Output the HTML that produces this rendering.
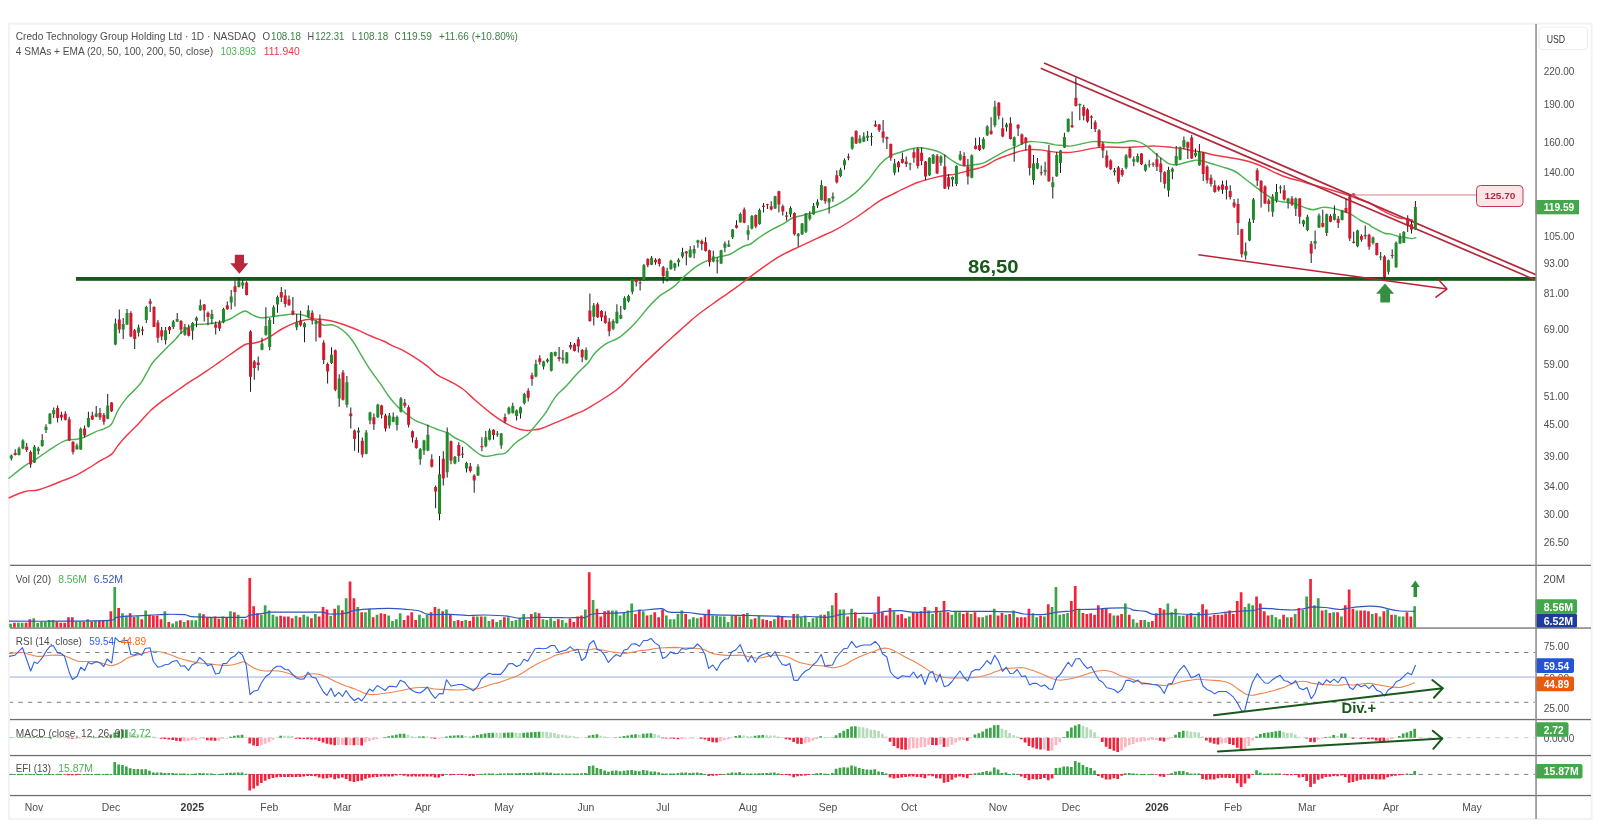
<!DOCTYPE html><html><head><meta charset="utf-8"><title>chart</title>
<style>html,body{margin:0;padding:0;background:#fff;}svg{display:block;will-change:transform}text{font-family:"Liberation Sans",sans-serif;}</style></head><body>
<svg width="1600" height="837" viewBox="0 0 1600 837">
<rect x="0" y="0" width="1600" height="837" fill="#ffffff"/>
<rect x="8.9" y="23.7" width="1582.6" height="795.2" fill="none" stroke="#f2f2f2" stroke-width="2"/>
<rect x="76" y="277" width="1460" height="3.8" fill="#17591b"/>
<path d="M9 497.8C11.7 496.7 20.3 492.8 25.1 491.5C29.9 490.2 33.5 491 37.6 490C41.8 489 46 487.3 50.2 485.7C54.4 484.2 58.6 482.4 62.7 480.7C66.9 479 71.1 477.7 75.3 475.7C79.5 473.7 83.6 471.2 87.8 468.7C92 466.2 96.4 463 100.4 460.6C104.3 458.3 108.5 456.9 111.4 454.4C114.3 451.9 115.6 448.5 117.9 445.6C120.3 442.7 122.1 440.4 125.5 436.8C128.8 433.2 133.8 428.6 138 424.3C142.2 419.9 146.4 414.4 150.6 410.5C154.7 406.5 158.9 403.6 163.1 400.4C167.3 397.3 171.5 394.6 175.7 391.6C179.8 388.7 184.7 385.2 188.2 382.8C191.8 380.5 193.8 379.4 197 377.3C200.2 375.3 203.7 373 207.5 370.4C211.4 367.8 215.9 364.5 220.1 361.6C224.3 358.7 228.5 355.7 232.6 352.8C236.8 350 241.8 346.1 245.2 344.5C248.5 343 250.2 343.8 252.7 343.3C255.2 342.8 257.3 342.7 260.2 341.5C263.2 340.4 266.5 338.7 270.3 336.5C274 334.3 278.6 330.8 282.8 328.5C287 326.2 291.6 324.2 295.4 322.7C299.1 321.3 302.1 320.3 305.4 319.7C308.8 319.1 311.3 318.8 315.5 319C319.6 319.1 325.5 319.7 330.5 320.7C335.5 321.8 341 323.6 345.6 325.2C350.2 326.8 353.9 328.4 358.1 330.2C362.3 332 366.5 334.2 370.7 336C374.8 337.8 379.4 339.4 383.2 341C387 342.7 390 344.5 393.2 346.1C396.5 347.6 398.9 348.2 402.5 350.1C406.2 352.1 410.9 354.9 415.1 357.7C419.3 360.4 423.9 363.5 427.6 366.4C431.4 369.4 433.9 372.7 437.7 375.2C441.4 377.7 446 379.2 450.2 381.5C454.4 383.8 458.6 385.9 462.8 389C467 392.2 470.7 396.3 475.3 400.3C479.9 404.3 485.8 409.3 490.4 412.9C495 416.4 498.7 419.1 502.9 421.6C507.1 424.2 511.7 426.5 515.5 427.9C519.2 429.4 522.6 430.1 525.5 430.4C528.4 430.8 530.5 430.2 533 429.9C535.5 429.6 537.2 429.7 540.6 428.7C543.9 427.6 548.9 425.4 553.1 423.7C557.3 421.9 561.5 420.2 565.7 418.4C569.8 416.6 574.4 414.6 578.2 412.9C582 411.2 581.9 411.9 588.2 408.1C594.6 404.3 608.5 396.1 616.4 390C624.2 384 627.9 379 635.2 372C642.5 365 654 354 660.3 348.1C666.6 342.3 668.6 340.6 672.8 336.8C677 333.1 681.2 329.2 685.4 325.5C689.6 321.9 693.7 318.1 697.9 314.8C702.1 311.4 706.3 308.5 710.5 305.5C714.7 302.5 718.8 299.6 723 296.7C727.2 293.8 731.4 291 735.6 287.9C739.7 284.9 743.9 281.5 748.1 278.4C752.3 275.2 756.5 272.1 760.7 269.1C764.8 266.1 769.4 262.8 773.2 260.3C777 257.8 779 256.5 783.2 254.3C787.5 252 793.1 249.5 798.8 246.8C804.6 244.1 811.4 241 817.6 238.1C823.9 235.1 830.2 232.6 836.5 229.3C842.7 225.9 850.1 221.3 855.3 218C860.5 214.6 863.6 212.1 867.8 209.2C872 206.3 876.2 202.9 880.4 200.4C884.6 197.9 888.7 196.2 892.9 194.1C897.1 192 901.3 189.8 905.5 187.9C909.7 185.9 913.8 183.9 918 182.3C922.2 180.8 926.4 179.7 930.6 178.6C934.7 177.5 938.9 176.6 943.1 175.8C947.3 175.1 951.5 174.9 955.7 174.1C959.8 173.2 964.4 171.8 968.2 170.8C972 169.8 975.4 169.1 978.2 168.3C981 167.5 981.8 167.5 985 165.9C988.3 164.4 993.8 160.9 997.6 159.2C1001.3 157.4 1003.9 156.7 1007.6 155.4C1011.4 154.1 1016.4 152.1 1020.2 151.1C1023.9 150.2 1026.9 149.8 1030.2 149.6C1033.6 149.4 1036.1 149.5 1040.2 149.9C1044.4 150.3 1050.3 151.7 1055.3 152.1C1060.3 152.6 1065.8 152.7 1070.4 152.4C1075 152.1 1078.7 151.1 1082.9 150.4C1087.1 149.6 1091.7 148.4 1095.5 147.9C1099.2 147.3 1100.5 147.2 1105.5 147.1C1110.5 147 1119.7 147.4 1125.6 147.4C1131.4 147.3 1135.6 146.8 1140.6 146.6C1145.6 146.4 1150.2 145.9 1155.7 146.1C1161.1 146.3 1169.2 147.3 1173.2 147.6C1177.3 148 1177.2 147.8 1180 148.2C1182.8 148.6 1186.3 149.5 1190.1 150.2C1193.8 150.9 1198.4 151.4 1202.6 152.2C1206.8 153 1211 154.4 1215.2 155.2C1219.4 156 1223.5 156.5 1227.7 157.2C1231.9 157.9 1236.1 158.6 1240.3 159.5C1244.4 160.4 1248.6 161.4 1252.8 162.7C1257 164.1 1261.6 166.1 1265.4 167.8C1269.1 169.4 1271.6 171.1 1275.4 172.8C1279.2 174.4 1283.8 176.4 1287.9 177.8C1292.1 179.2 1296.3 179.9 1300.5 181.1C1304.7 182.2 1308.9 183.6 1313 184.8C1317.2 186 1321 187 1325.6 188.3C1330.2 189.7 1336.5 191.6 1340.6 192.8C1344.8 194.1 1347.3 194.9 1350.7 196.1C1354 197.3 1357.8 198.8 1360.7 199.9C1363.6 200.9 1366.1 201.5 1368.2 202.4C1370.4 203.3 1371.2 203.8 1373.4 205.1C1375.7 206.4 1379 208.6 1381.8 210.1C1384.6 211.7 1387.4 213.1 1390.2 214.3C1393 215.6 1395.7 216.9 1398.5 217.7C1401.3 218.4 1404.5 218.6 1406.9 219C1409.3 219.4 1411.8 220 1412.7 220.2" fill="none" stroke="#f23645" stroke-width="1.45" stroke-linejoin="round" stroke-linecap="round"/>
<path d="M9 478.2C11.7 476.1 20.3 469 25.1 465.7C29.9 462.3 33.5 460.8 37.6 458.1C41.8 455.4 45.6 452.3 50.2 449.3C54.8 446.4 60.9 442.2 65.2 440.6C69.6 438.9 73.2 439.9 76.5 439.3C79.9 438.7 82.2 438.1 85.3 436.8C88.5 435.5 92.3 433.1 95.4 431.8C98.5 430.4 101.2 430 103.9 428.8C106.6 427.5 109.1 427.3 111.4 424.3C113.8 421.2 115.4 414.8 117.9 410.5C120.5 406.1 123.8 401.5 126.7 397.9C129.7 394.3 133 391.8 135.5 389.1C138 386.4 139.7 384.7 141.8 381.6C143.9 378.5 146.1 373.6 148.1 370.3C150 367 150.6 365.1 153.6 361.5C156.5 358 161.9 352.7 165.6 349C169.3 345.2 173.1 341.7 175.7 338.9C178.3 336.2 178.7 334.8 181.2 332.7C183.7 330.6 188.1 327.8 190.7 326.4C193.4 325 194.6 324.8 197 324.4C199.4 324 201.2 324.3 205 324C208.9 323.6 215.9 323.1 220.1 322.2C224.3 321.4 227.2 320.2 230.1 319C233.1 317.7 235.2 315.8 237.7 314.4C240.2 313.1 242.9 310.9 245.2 310.9C247.5 310.9 249 313.3 251.5 314.4C254 315.6 257.1 317.3 260.2 317.7C263.4 318.1 266.5 317.4 270.3 316.9C274 316.5 278.6 315.7 282.8 315.2C287 314.7 291.6 313.8 295.4 313.9C299.1 314 302.5 314.9 305.4 315.7C308.3 316.5 310.4 317.7 312.9 319C315.5 320.2 318.6 322.4 320.5 323.5C322.4 324.5 322.4 325 324.2 325.2C326.1 325.4 329.5 324.4 331.8 324.7C334.1 325.1 335.7 325.9 338 327.2C340.3 328.6 343.1 330.4 345.6 332.8C348.1 335.1 350.6 338 353.1 341.5C355.6 345.1 357.7 349.3 360.6 354.1C363.5 358.9 367.3 365.4 370.7 370.4C374 375.4 377.8 380 380.7 384.2C383.6 388.4 386.1 392.6 388.2 395.5C390.3 398.4 391.7 399.9 393.2 401.8C394.8 403.6 395.6 404.7 397.5 406.6C399.5 408.4 402.1 410.6 405.1 412.9C408 415.2 411.3 418.3 415.1 420.4C418.9 422.5 423.5 423.7 427.6 425.4C431.8 427.1 436.8 429.2 440.2 430.4C443.5 431.7 445.2 431.7 447.7 432.9C450.2 434.2 452.3 436.3 455.2 438C458.2 439.6 462.4 441.1 465.3 443C468.2 444.9 470.1 447.2 472.8 449.3C475.5 451.3 479.1 454.4 481.6 455.5C484.1 456.7 485.1 456.5 487.9 456.3C490.6 456.1 495 454.8 497.9 454.3C500.8 453.7 502.5 454.9 505.4 453C508.4 451.1 511.7 446.1 515.5 443C519.2 439.8 524.7 437.1 528 434.2C531.4 431.3 532.6 429 535.5 425.4C538.5 421.9 542.2 417.7 545.6 412.9C548.9 408.1 552.3 400.9 555.6 396.6C559 392.2 562.3 390.1 565.7 386.5C569 383 572.8 378.4 575.7 375.2C578.6 372.1 581.1 369.8 583.2 367.7C585.3 365.6 586.3 365.1 588.2 362.7C590.2 360.3 592.2 356.2 595 353.1C597.8 350.1 600.9 347.1 605.1 344.4C609.3 341.6 615.1 340.4 620.1 336.8C625.2 333.3 630.6 327.8 635.2 323C639.8 318.2 643.6 312.6 647.7 308C651.9 303.4 656.1 298.9 660.3 295.4C664.5 292 668.6 290.7 672.8 287.4C677 284.1 681.2 279 685.4 275.4C689.6 271.7 694.2 267.8 697.9 265.3C701.7 262.8 704.2 261.8 708 260.3C711.7 258.8 716.7 257.6 720.5 256.5C724.3 255.5 726.8 255.7 730.5 254C734.3 252.4 739.7 248.2 743.1 246.5C746.4 244.8 747.7 245.7 750.6 244C753.5 242.3 756.9 239 760.7 236.5C764.4 234 769.4 231 773.2 228.9C777 226.8 780 225.7 783.2 223.9C786.5 222.1 788.9 219.5 792.5 218C796.2 216.4 800.9 215.8 805.1 214.7C809.3 213.7 813.5 212.8 817.6 211.7C821.8 210.6 826 209.6 830.2 207.9C834.4 206.3 838.6 204.2 842.7 201.7C846.9 199.2 851.1 196.4 855.3 192.9C859.5 189.3 863.6 185.1 867.8 180.3C872 175.5 876.6 168.1 880.4 164C884.1 159.9 887.1 157.7 890.4 155.7C893.8 153.8 897.1 153.4 900.5 152.2C903.8 151.1 907.1 149.7 910.5 149C913.8 148.2 917.2 147.6 920.5 147.7C923.9 147.8 927.2 148.6 930.6 149.5C933.9 150.3 937.3 151.1 940.6 152.7C943.9 154.4 947.3 157.4 950.6 159.5C954 161.6 957.3 164.3 960.7 165.3C964 166.2 967.8 165.4 970.7 165.3C973.6 165.1 975.9 164.8 978.2 164.3C980.6 163.8 982.2 163.7 985 162.4C987.8 161.2 991.7 158.5 995.1 156.6C998.4 154.8 1001.8 152.7 1005.1 151.1C1008.5 149.5 1011.8 148.6 1015.2 147.1C1018.5 145.7 1022.3 143.3 1025.2 142.3C1028.1 141.4 1029.4 141.5 1032.7 141.6C1036.1 141.7 1041.5 142.3 1045.3 142.8C1049 143.4 1052.4 144.4 1055.3 144.9C1058.2 145.3 1060.3 145.1 1062.8 145.4C1065.3 145.6 1067.4 146.3 1070.4 146.1C1073.3 145.9 1076.6 144.9 1080.4 144.1C1084.2 143.4 1088.8 141.9 1092.9 141.6C1097.1 141.3 1101.3 141.9 1105.5 142.1C1109.7 142.3 1113.9 143.1 1118 142.8C1122.2 142.6 1127.2 141 1130.6 140.8C1133.9 140.6 1135.6 140.8 1138.1 141.6C1140.6 142.3 1143.1 143.7 1145.6 145.4C1148.1 147 1150.7 149.5 1153.2 151.6C1155.7 153.7 1158.2 155.9 1160.7 157.9C1163.2 159.9 1166.1 162.3 1168.2 163.4C1170.3 164.6 1171.7 164.5 1173.2 164.7C1174.8 164.9 1175.6 165.1 1177.5 164.7C1179.5 164.4 1182.1 163.5 1185.1 162.7C1188 162 1192.2 160.5 1195.1 160.2C1198 159.9 1199.7 160.4 1202.6 161C1205.5 161.6 1208.9 162.9 1212.7 164C1216.4 165.1 1221.4 166.5 1225.2 167.8C1229 169 1231.9 169.6 1235.2 171.5C1238.6 173.4 1241.9 176.5 1245.3 179C1248.6 181.6 1252 184.1 1255.3 186.6C1258.7 189.1 1262 191.8 1265.4 194.1C1268.7 196.4 1272 199 1275.4 200.4C1278.7 201.7 1282.1 201.5 1285.4 202.1C1288.8 202.8 1292.1 203.2 1295.5 204.1C1298.8 205.1 1302.6 207 1305.5 207.9C1308.4 208.8 1310.1 209.7 1313 209.7C1316 209.6 1320.1 207.7 1323.1 207.4C1326 207.1 1327.7 207.4 1330.6 207.9C1333.5 208.4 1337.3 209.4 1340.6 210.4C1344 211.5 1347.3 212.5 1350.7 214.2C1354 215.9 1357.8 218.8 1360.7 220.5C1363.6 222.1 1366.1 223 1368.2 224.2C1370.4 225.4 1370.8 226.2 1373.4 227.7C1376.1 229.2 1381.5 232.2 1384.3 233.2C1387.1 234.2 1387.8 233.4 1390.2 233.9C1392.5 234.4 1395.7 235.7 1398.5 236.4C1401.3 237 1404.7 237.4 1406.9 237.7C1409.1 238.1 1410.4 238.6 1411.9 238.6C1413.4 238.6 1415.1 237.9 1415.8 237.7" fill="none" stroke="#4bb252" stroke-width="1.45" stroke-linejoin="round" stroke-linecap="round"/>
<line x1="1044" y1="63" x2="1536" y2="274.8" stroke="#b3283a" stroke-width="1.7" />
<line x1="1040.7" y1="68.3" x2="1536" y2="280.2" stroke="#b3283a" stroke-width="1.7" />
<line x1="1198.4" y1="254.8" x2="1446.9" y2="289.1" stroke="#bd2139" stroke-width="1.5" />
<path d="M1438.4 279.4L1446.9 289.1L1435.9 297.2" fill="none" stroke="#bd2139" stroke-width="1.5" stroke-linecap="round" stroke-linejoin="round"/>
<path d="M10.8 454.4h1V460.6h-1zM14.7 449.3h1V455.6h-1zM18.5 446.8h1V455.6h-1zM22.4 439.3h1V449.3h-1zM26.2 443.1h1V451.9h-1zM30.1 450.6h1V467.7h-1zM33.9 445.1h1V463.1h-1zM37.8 446.8h1V454.4h-1zM41.7 434.3h1V446.8h-1zM45.5 424.3h1V433h-1zM49.4 413h1V424.3h-1zM53.2 407.4h1V418h-1zM57.1 405.4h1V422.5h-1zM60.9 411.7h1V420.5h-1zM64.8 411.2h1V420.5h-1zM68.7 416.7h1V441.1h-1zM72.5 441.3h1V454.4h-1zM76.4 443.6h1V449.8h-1zM80.2 427.5h1V449.8h-1zM84.1 425.5h1V437.6h-1zM87.9 411.7h1V427.5h-1zM91.8 411.7h1V420h-1zM95.7 405.9h1V417.2h-1zM99.5 407.9h1V420h-1zM103.4 413h1V424.8h-1zM107.2 394.1h1V419.2h-1zM111.1 401.9h1V412h-1zM114.9 318.4h1V345.2h-1zM118.8 309.6h1V333.2h-1zM122.7 318.1h1V338.9h-1zM126.5 309.1h1V325.1h-1zM130.4 311.3h1V337.2h-1zM134.2 328.9h1V349h-1zM138.1 324.6h1V336.4h-1zM142 326.4h1V335.2h-1zM145.8 305.8h1V323.1h-1zM149.7 298.8h1V312.1h-1zM153.5 306.3h1V327.1h-1zM157.4 320.1h1V342.7h-1zM161.2 327.1h1V340.2h-1zM165.1 327.1h1V344.5h-1zM169 325.9h1V333.9h-1zM172.8 320.1h1V328.9h-1zM176.7 313.1h1V321.9h-1zM180.5 320.1h1V333.9h-1zM184.4 323.9h1V335.7h-1zM188.2 324.6h1V336.4h-1zM192.1 322.1h1V339.7h-1zM196 316.4h1V327.2h-1zM199.8 299.6h1V310.7h-1zM203.7 303.9h1V321.5h-1zM207.5 311.4h1V325.2h-1zM211.4 309.7h1V324h-1zM215.2 321.5h1V334.5h-1zM219.1 320.2h1V331h-1zM223 307.7h1V323.2h-1zM226.8 301.4h1V309.7h-1zM230.7 290.1h1V309.4h-1zM234.5 280.6h1V306.4h-1zM238.4 278h1V287.6h-1zM242.2 280.1h1V288.8h-1zM246.1 281.3h1V295.6h-1zM250 330.2h1V391.7h-1zM253.8 359.9h1V379.7h-1zM257.7 356.6h1V370.4h-1zM261.5 337.8h1V350.3h-1zM265.4 307.2h1V335.8h-1zM269.2 317.7h1V350.3h-1zM273.1 305.2h1V324h-1zM277 295.6h1V312.7h-1zM280.8 287.1h1V302.1h-1zM284.7 289.6h1V307.2h-1zM288.5 295.6h1V305.7h-1zM292.4 297.1h1V315.2h-1zM296.2 313.9h1V330.2h-1zM300.1 310.7h1V326.5h-1zM304 322.2h1V342.3h-1zM307.8 305.2h1V317.7h-1zM311.7 310.2h1V324.5h-1zM315.5 320.2h1V341.5h-1zM319.4 314.4h1V337.8h-1zM323.2 340.3h1V364.1h-1zM327.1 362.4h1V383.4h-1zM331 347.3h1V364.1h-1zM334.8 349.6h1V391.2h-1zM338.7 374.2h1V406.8h-1zM342.5 369.9h1V400.5h-1zM346.4 375.9h1V407.5h-1zM350.3 407.5h1V428.6h-1zM354.1 429.4h1V450.7h-1zM358 427.6h1V452.7h-1zM361.8 437.6h1V457.5h-1zM365.7 430.1h1V454.2h-1zM369.5 411.8h1V424.3h-1zM373.4 413.6h1V429.9h-1zM377.3 403.8h1V418.1h-1zM381.1 404.8h1V418.6h-1zM385 413.8h1V431.4h-1zM388.8 413.1h1V428.6h-1zM392.7 412.6h1V422.3h-1zM396.5 415.4h1V430.4h-1zM400.4 397.1h1V412.4h-1zM404.3 399.1h1V407.8h-1zM408.1 405.3h1V427.4h-1zM412 430.4h1V442.5h-1zM415.8 437.2h1V448.8h-1zM419.7 448h1V464.8h-1zM423.5 439.7h1V454.8h-1zM427.4 424.7h1V451.3h-1zM431.3 454.3h1V467.6h-1zM435.1 485.6h1V508.2h-1zM439 456h1V520.3h-1zM442.8 451.3h1V485.6h-1zM446.7 427.4h1V477.6h-1zM450.5 440.5h1V464.3h-1zM454.4 456h1V464.3h-1zM458.3 442.2h1V461.8h-1zM462.1 446.7h1V458h-1zM466 461.8h1V472.6h-1zM469.8 463.1h1V472.6h-1zM473.7 474.3h1V492.7h-1zM477.5 464.3h1V476.1h-1zM481.4 437.2h1V451.3h-1zM485.3 430.9h1V447.2h-1zM489.1 428.4h1V440.5h-1zM493 429.2h1V439.7h-1zM496.8 430.9h1V436.7h-1zM500.7 432.9h1V448.8h-1zM504.5 413.6h1V422.9h-1zM508.4 406.6h1V414.6h-1zM512.3 402.8h1V413.6h-1zM516.1 409.6h1V420.4h-1zM520 406.6h1V418.4h-1zM523.8 392.8h1V404.6h-1zM527.7 388.3h1V401.6h-1zM531.5 372.7h1V385.8h-1zM535.4 359.7h1V377.2h-1zM539.3 355.2h1V364.4h-1zM543.1 360.7h1V369.5h-1zM547 358.2h1V362.7h-1zM550.8 352.1h1V371.5h-1zM554.7 351.4h1V356.4h-1zM558.6 347.1h1V361.4h-1zM562.4 350.1h1V363.4h-1zM566.3 352.1h1V363.7h-1zM570.1 341.9h1V349.6h-1zM574 343.1h1V351.4h-1zM577.8 337.1h1V352.6h-1zM581.7 348.9h1V362.2h-1zM585.6 347.6h1V360.2h-1zM589.4 293.4h1V321.8h-1zM593.3 303h1V325.5h-1zM597.1 302.5h1V318h-1zM601 310h1V321.3h-1zM604.8 311.2h1V323.8h-1zM608.7 318h1V336.3h-1zM612.6 319.3h1V330.1h-1zM616.4 304.2h1V323.8h-1zM620.3 306h1V319.3h-1zM624.1 296.2h1V310h-1zM628 294.7h1V302.5h-1zM631.8 277.9h1V294.2h-1zM635.7 278.4h1V286.6h-1zM639.6 280.4h1V290.4h-1zM643.4 264.1h1V281.1h-1zM647.3 258.3h1V267.3h-1zM651.1 256h1V265.3h-1zM655 258.3h1V264.8h-1zM658.8 258.3h1V266.6h-1zM662.7 266.1h1V283.6h-1zM666.6 267.8h1V281.6h-1zM670.4 259.8h1V269.8h-1zM674.3 262.8h1V270.8h-1zM678.1 258.3h1V266.6h-1zM682 247.8h1V258.3h-1zM685.8 251h1V265.3h-1zM689.7 246h1V257.8h-1zM693.6 245.2h1V258.3h-1zM697.4 239.7h1V247.8h-1zM701.3 239.5h1V250.3h-1zM705.1 237.2h1V251.5h-1zM709 249.8h1V266.6h-1zM712.8 250.8h1V262.3h-1zM716.7 257.3h1V273.6h-1zM720.6 249.8h1V264.1h-1zM724.4 241.5h1V252.3h-1zM728.3 240.2h1V247h-1zM732.1 228.9h1V239h-1zM736 220.2h1V228.4h-1zM739.8 212.6h1V222.7h-1zM743.7 207.6h1V223.2h-1zM747.6 225.2h1V240.2h-1zM751.4 215.1h1V229.4h-1zM755.3 214.4h1V228.2h-1zM759.1 208.4h1V224.7h-1zM763 203.1h1V212.6h-1zM766.9 203.8h1V208.9h-1zM770.7 201.3h1V210.6h-1zM774.6 195.8h1V208.9h-1zM778.4 190.8h1V212.6h-1zM782.3 204.6h1V215.6h-1zM786.1 211.7h1V220.5h-1zM790 206.2h1V217.2h-1zM793.9 212.2h1V235.5h-1zM797.7 233h1V246.8h-1zM801.6 223h1V235h-1zM805.4 213h1V233h-1zM809.3 211.2h1V220.5h-1zM813.1 202.9h1V214.7h-1zM817 199.2h1V207.9h-1zM820.9 180.3h1V200.4h-1zM824.7 186.1h1V203.7h-1zM828.6 197.9h1V213.5h-1zM832.4 192.4h1V201.7h-1zM836.3 170.3h1V183.6h-1zM840.1 167.8h1V177.3h-1zM844 158.5h1V169.8h-1zM847.9 153.5h1V160.3h-1zM851.7 136.4h1V149.7h-1zM855.6 130.2h1V144h-1zM859.4 135.2h1V143.5h-1zM863.3 132.2h1V142.2h-1zM867.1 130.9h1V140.9h-1zM871 132.7h1V145.7h-1zM874.9 120.6h1V127.1h-1zM878.7 123.9h1V131.9h-1zM882.6 120.1h1V142.7h-1zM886.4 136.4h1V149h-1zM890.3 143.5h1V160.8h-1zM894.1 159h1V175.3h-1zM898 161h1V172.3h-1zM901.9 152.7h1V163.5h-1zM905.7 156.5h1V167h-1zM909.6 162.8h1V170.3h-1zM913.4 148.5h1V162.8h-1zM917.3 147.2h1V168.5h-1zM921.1 147.2h1V165.3h-1zM925 161h1V180.3h-1zM928.9 157.3h1V176.1h-1zM932.7 154h1V164h-1zM936.6 154h1V174.1h-1zM940.4 155.2h1V165.8h-1zM944.3 154.5h1V189.1h-1zM948.1 174.1h1V189.6h-1zM952 176.6h1V186.6h-1zM955.9 165.3h1V186.1h-1zM959.7 151h1V160.8h-1zM963.6 152.2h1V166.5h-1zM967.4 159h1V184.6h-1zM971.3 154.5h1V178.3h-1zM975.1 137.7h1V149.5h-1zM979 137.3h1V150.9h-1zM982.9 137.3h1V149.6h-1zM986.7 125.3h1V136.1h-1zM990.6 117.3h1V134.8h-1zM994.4 100.7h1V127.3h-1zM998.3 101.9h1V119.5h-1zM1002.2 117.8h1V137.3h-1zM1006 122.8h1V131.6h-1zM1009.9 117.3h1V139.6h-1zM1013.7 136.6h1V161.7h-1zM1017.6 124.3h1V136.1h-1zM1021.4 133.6h1V144.9h-1zM1025.3 137.1h1V150.4h-1zM1029.2 144.6h1V175.5h-1zM1033 154.9h1V184.8h-1zM1036.9 157.9h1V169.2h-1zM1040.7 165.4h1V175.5h-1zM1044.6 161.7h1V175.5h-1zM1048.4 144.9h1V181.7h-1zM1052.3 176.7h1V198.6h-1zM1056.2 152.1h1V176.7h-1zM1060 149.9h1V173h-1zM1063.9 132.8h1V147.9h-1zM1067.7 118.3h1V132.3h-1zM1071.6 111.5h1V127.8h-1zM1075.4 77.6h1V106.5h-1zM1079.3 103.5h1V120.3h-1zM1083.2 104.7h1V120.3h-1zM1087 108.2h1V122.8h-1zM1090.9 115.2h1V129h-1zM1094.7 120.3h1V132.1h-1zM1098.6 129h1V147.4h-1zM1102.4 142.1h1V157.9h-1zM1106.3 150.4h1V167.9h-1zM1110.2 159.2h1V169.9h-1zM1114 167.9h1V175.5h-1zM1117.9 165.9h1V183.8h-1zM1121.7 167.9h1V176.7h-1zM1125.6 154.1h1V169.2h-1zM1129.4 147.1h1V158.4h-1zM1133.3 156.6h1V166.2h-1zM1137.2 153.4h1V162.4h-1zM1141 152.9h1V164.9h-1zM1144.9 163.7h1V171.7h-1zM1148.7 159.7h1V167.4h-1zM1152.6 162.2h1V166.7h-1zM1156.4 152.9h1V171h-1zM1160.3 157.9h1V182.2h-1zM1164.2 171.2h1V188.5h-1zM1168 166.7h1V196.8h-1zM1171.9 167.4h1V179.2h-1zM1175.7 145.9h1V165.7h-1zM1179.6 146.4h1V160.2h-1zM1183.4 136.4h1V148.9h-1zM1187.3 141.4h1V159h-1zM1191.2 135.1h1V159h-1zM1195 148.4h1V157.2h-1zM1198.9 143.9h1V165.7h-1zM1202.7 151.9h1V181.1h-1zM1206.6 165.2h1V183.6h-1zM1210.5 174.5h1V186.6h-1zM1214.3 180.3h1V192.8h-1zM1218.2 185.3h1V191.6h-1zM1222 180.8h1V194.1h-1zM1225.9 180.3h1V199.6h-1zM1229.7 185.3h1V199.6h-1zM1233.6 199.1h1V207.9h-1zM1237.5 198.6h1V235h-1zM1241.3 228.7h1V257.6h-1zM1245.2 242.5h1V259.8h-1zM1249 218.4h1V241.3h-1zM1252.9 197.9h1V223h-1zM1256.7 168.3h1V186.1h-1zM1260.6 180.3h1V207.4h-1zM1264.5 185.3h1V204.1h-1zM1268.3 198.6h1V211.7h-1zM1272.2 194.1h1V216.7h-1zM1276 184.1h1V202.4h-1zM1279.9 185.3h1V193.4h-1zM1283.7 185.3h1V200.4h-1zM1287.6 197.9h1V208.4h-1zM1291.5 196.1h1V206.1h-1zM1295.3 197.4h1V215.9h-1zM1299.2 197.9h1V223.7h-1zM1303 219.7h1V226.7h-1zM1306.9 214.7h1V231.2h-1zM1310.7 241h1V263.1h-1zM1314.6 230.5h1V249.3h-1zM1318.5 213.4h1V228h-1zM1322.3 209.7h1V227.5h-1zM1326.2 213.4h1V236h-1zM1330 214.2h1V222.2h-1zM1333.9 205.4h1V220.5h-1zM1337.7 215.9h1V228h-1zM1341.6 209.7h1V220.5h-1zM1345.5 199.1h1V212.9h-1zM1349.3 194.9h1V241h-1zM1353.2 231.7h1V243.5h-1zM1357 229.7h1V247.3h-1zM1360.9 234.3h1V241.8h-1zM1364.7 225.5h1V239.3h-1zM1368.6 233.8h1V249.8h-1zM1372.5 236.6h1V244.4h-1zM1376.3 242.7h1V255.6h-1zM1380.2 251.9h1V260.3h-1zM1384 255.3h1V278.7h-1zM1387.9 259.5h1V274.5h-1zM1391.7 249.4h1V258.6h-1zM1395.6 241.4h1V267.7h-1zM1399.5 233.2h1V243.9h-1zM1403.3 231h1V243.1h-1zM1407.2 215.2h1V231.9h-1zM1411 221h1V233.5h-1zM1414.9 200.9h1V229.7h-1z" fill="#1c1c1c"/>
<path d="M9.8 455.6h3V458.6h-3zM17.5 448.6h3V455.1h-3zM21.4 440.6h3V448.6h-3zM32.9 446.8h3V462.6h-3zM36.8 448.6h3V451.1h-3zM40.7 440.1h3V446.1h-3zM44.5 426.8h3V430h-3zM48.4 413.7h3V423.8h-3zM52.2 409.9h3V414.2h-3zM75.4 445.6h3V449.3h-3zM79.2 428.8h3V449.6h-3zM86.9 418h3V426.8h-3zM94.7 413.5h3V416.7h-3zM106.2 405.4h3V418.7h-3zM113.9 323.4h3V344.5h-3zM121.7 323.9h3V329.6h-3zM125.5 313.1h3V324.6h-3zM137.1 327.6h3V332.7h-3zM144.8 307.1h3V320.1h-3zM164.1 330.2h3V340.2h-3zM171.8 321.4h3V327.1h-3zM175.7 318.9h3V321.4h-3zM183.4 327.1h3V334.7h-3zM191.1 323.1h3V330.7h-3zM195 317.7h3V320.7h-3zM198.8 305.2h3V310.2h-3zM210.4 313.9h3V319h-3zM222 308.9h3V322.2h-3zM229.7 296.4h3V302.6h-3zM237.4 281.3h3V287.1h-3zM241.2 282.6h3V285.6h-3zM260.5 343.5h3V349.8h-3zM264.4 326h3V334.8h-3zM268.2 319.7h3V347.1h-3zM272.1 307.2h3V316.9h-3zM276 297.1h3V304.4h-3zM295.2 322.2h3V327.2h-3zM303 323.2h3V327.2h-3zM306.8 310.2h3V316.4h-3zM314.5 321.5h3V324h-3zM330 354.8h3V362.9h-3zM337.7 378.4h3V398.5h-3zM345.4 382.2h3V404.8h-3zM357 430.6h3V432.6h-3zM364.7 432.4h3V453.7h-3zM368.5 412.6h3V420.6h-3zM376.3 404.8h3V417.3h-3zM387.8 415.6h3V425.6h-3zM391.7 416.8h3V421.8h-3zM395.5 417.1h3V424.9h-3zM399.4 398.6h3V411.6h-3zM418.7 449.3h3V459.3h-3zM422.5 440.5h3V450.5h-3zM426.4 434.7h3V450.5h-3zM438 474.3h3V514h-3zM445.7 432.2h3V472.3h-3zM453.4 456.8h3V463.6h-3zM465 463.1h3V468.6h-3zM476.5 466.8h3V475.6h-3zM484.3 437.2h3V446.2h-3zM488.1 430.4h3V439.7h-3zM495.8 433.4h3V434.7h-3zM499.7 433.4h3V445.5h-3zM507.4 407.8h3V413.4h-3zM511.3 406.1h3V412.9h-3zM515.1 410.4h3V416.1h-3zM519 407.3h3V413.6h-3zM522.8 394h3V403.3h-3zM534.4 363.9h3V376.5h-3zM542.1 361.4h3V366.4h-3zM546 359.4h3V361.4h-3zM549.8 352.6h3V370.7h-3zM553.7 352.1h3V355.7h-3zM561.4 357.7h3V359.7h-3zM565.3 352.6h3V363.2h-3zM584.6 350.1h3V359.4h-3zM592.3 305.5h3V316.8h-3zM611.6 321h3V328.8h-3zM615.4 311.7h3V323h-3zM619.3 315h3V318.5h-3zM623.1 297.9h3V309.2h-3zM627 295.9h3V301.2h-3zM630.8 279.1h3V291.7h-3zM642.4 265.3h3V280.4h-3zM650.1 257.8h3V264.8h-3zM665.6 271.1h3V279.1h-3zM669.4 260.8h3V269.1h-3zM673.3 263.6h3V267.8h-3zM677.1 259.8h3V262.3h-3zM681 252.3h3V256.5h-3zM688.7 249.8h3V257.3h-3zM692.6 249h3V253.5h-3zM696.4 240.2h3V242.7h-3zM711.8 256.5h3V261.6h-3zM715.7 260.3h3V261.6h-3zM719.6 250.3h3V263.6h-3zM723.4 243.5h3V247.8h-3zM727.3 244.5h3V246.5h-3zM731.1 229.4h3V237.2h-3zM738.8 213.9h3V222.2h-3zM746.6 230.2h3V234.7h-3zM750.4 215.9h3V228.4h-3zM758.1 210.1h3V223.9h-3zM773.6 196.3h3V208.4h-3zM789 207.9h3V214.2h-3zM796.7 233.8h3V236.3h-3zM800.6 223.5h3V234.3h-3zM804.4 213.5h3V231.8h-3zM808.3 214.7h3V218.7h-3zM812.1 205.9h3V214.2h-3zM816 201.7h3V205.4h-3zM819.9 184.9h3V199.9h-3zM827.6 198.4h3V202.4h-3zM831.4 196.6h3V198.4h-3zM839.1 169.8h3V176.1h-3zM843 160.3h3V165.3h-3zM850.7 137.2h3V148.5h-3zM858.4 138.4h3V142.7h-3zM862.3 136.4h3V141.4h-3zM866.1 135.7h3V137.7h-3zM870 135.9h3V136.9h-3zM893.1 163.5h3V172.8h-3zM908.6 163.5h3V164.5h-3zM927.9 157.8h3V175.3h-3zM931.7 154.7h3V163.5h-3zM939.4 156.5h3V162.8h-3zM951 177.1h3V179.8h-3zM954.9 166h3V184.1h-3zM958.7 154.5h3V159.8h-3zM970.3 155.2h3V177.8h-3zM981.9 139.1h3V148.4h-3zM985.7 126.5h3V135.3h-3zM993.4 106.5h3V125.3h-3zM1005 124.5h3V127.3h-3zM1012.7 137.3h3V146.1h-3zM1032 163.4h3V180h-3zM1035.9 162.9h3V168.4h-3zM1043.6 169.7h3V171.7h-3zM1051.3 182.2h3V187.3h-3zM1055.2 154.9h3V176.2h-3zM1059 150.4h3V162.9h-3zM1062.9 137.1h3V147.4h-3zM1066.7 119h3V131.6h-3zM1078.3 104h3V105.2h-3zM1113 170.5h3V172.2h-3zM1124.6 155.4h3V167.4h-3zM1132.3 159.2h3V161.7h-3zM1136.2 156.1h3V161.7h-3zM1143.9 164.7h3V170.5h-3zM1147.7 164.2h3V165.2h-3zM1167 169.9h3V190.5h-3zM1170.9 168.7h3V171.7h-3zM1174.7 156h3V164.7h-3zM1178.6 147.2h3V159.7h-3zM1182.4 140.2h3V147.2h-3zM1194 152.7h3V155.7h-3zM1197.9 151.9h3V165.2h-3zM1244.2 251.3h3V255.6h-3zM1248 221.7h3V240.5h-3zM1251.9 199.6h3V219.7h-3zM1271.2 196.6h3V211.7h-3zM1275 192.1h3V200.4h-3zM1278.9 187.3h3V188.3h-3zM1286.6 198.6h3V202.9h-3zM1294.3 198.4h3V208.7h-3zM1302 220.5h3V224.2h-3zM1305.9 216.7h3V230h-3zM1313.6 241h3V243.8h-3zM1317.5 215.4h3V227.5h-3zM1325.2 214.2h3V233h-3zM1332.9 213.7h3V219.7h-3zM1340.6 210.4h3V219.9h-3zM1356 230.5h3V246.3h-3zM1371.5 237.4h3V243.1h-3zM1379.2 256.6h3V257.6h-3zM1386.9 260.3h3V271.7h-3zM1394.6 242.7h3V267.3h-3zM1398.5 236.9h3V243.6h-3zM1402.3 231.9h3V242.7h-3zM1413.9 207.1h3V229.4h-3z" fill="#22892c"/>
<path d="M13.7 453.1h3V455.1h-3zM25.2 446.8h3V450.1h-3zM29.1 451.9h3V464.4h-3zM56.1 407.9h3V418h-3zM59.9 414.7h3V417.5h-3zM63.8 413.7h3V419.7h-3zM67.7 419.2h3V440.6h-3zM71.5 441.8h3V451.9h-3zM83.1 428.5h3V435.5h-3zM90.8 415.5h3V419.5h-3zM98.5 413h3V417.5h-3zM102.4 415h3V421.7h-3zM110.1 402.4h3V411.2h-3zM117.8 319.4h3V329.6h-3zM129.4 313.1h3V336.4h-3zM133.2 330.2h3V338.9h-3zM141 329.6h3V330.7h-3zM148.7 301.3h3V303.8h-3zM152.5 307.1h3V326.9h-3zM156.4 322.6h3V337.7h-3zM160.2 330.2h3V336.4h-3zM168 327.1h3V330.2h-3zM179.5 320.9h3V329.6h-3zM187.2 327.6h3V335.7h-3zM202.7 304.6h3V310.2h-3zM206.5 312.7h3V316.9h-3zM214.2 324.5h3V327.7h-3zM218.1 322.7h3V328.5h-3zM225.8 305.2h3V309.2h-3zM233.5 286.3h3V292.1h-3zM245.1 282.6h3V295.1h-3zM249 331.5h3V376.7h-3zM252.8 361.6h3V367.9h-3zM256.7 362.4h3V364.9h-3zM279.8 292.1h3V297.6h-3zM283.7 295.6h3V303.9h-3zM287.5 299.4h3V305.2h-3zM291.4 310.7h3V314.7h-3zM299.1 320.7h3V325.2h-3zM310.7 312.7h3V320.7h-3zM318.4 320.2h3V337.3h-3zM322.2 342.8h3V359.9h-3zM326.1 364.1h3V371.6h-3zM333.8 350.3h3V389.7h-3zM341.5 372.4h3V399.8h-3zM349.3 413.6h3V416.3h-3zM353.1 430.6h3V438.9h-3zM360.8 440.7h3V454.5h-3zM372.4 417.3h3V424.3h-3zM380.1 405.5h3V414.8h-3zM384 415.6h3V428.6h-3zM403.3 402.8h3V405.8h-3zM407.1 407.3h3V424.7h-3zM411 431.2h3V437.5h-3zM414.8 440h3V448h-3zM430.3 459.3h3V466.8h-3zM434.1 486.9h3V491.4h-3zM441.8 458.8h3V478.6h-3zM449.5 441.2h3V460.5h-3zM457.3 445h3V456h-3zM461.1 453.8h3V454.8h-3zM468.8 466.3h3V471.1h-3zM472.7 475.6h3V480.6h-3zM480.4 446h3V447.2h-3zM492 429.7h3V434.9h-3zM503.5 417.1h3V421.6h-3zM526.7 390.8h3V397.8h-3zM530.5 375.2h3V379h-3zM538.3 358.2h3V361.9h-3zM557.6 356.9h3V358.9h-3zM569.1 345.1h3V347.6h-3zM573 344.4h3V350.9h-3zM576.8 339.3h3V346.4h-3zM580.7 350.1h3V357.2h-3zM588.4 310.5h3V321h-3zM596.1 304.2h3V317.3h-3zM600 311h3V317.3h-3zM603.8 315.5h3V323h-3zM607.7 321.8h3V331.3h-3zM634.7 279.1h3V282.1h-3zM638.6 282.4h3V283.4h-3zM646.3 259h3V265.3h-3zM654 259.8h3V262.3h-3zM657.8 259h3V264.1h-3zM661.7 267.3h3V276.1h-3zM684.8 251.5h3V253.5h-3zM700.3 241h3V244h-3zM704.1 242.2h3V251h-3zM708 250.3h3V262.3h-3zM735 225.2h3V227.7h-3zM742.7 209.6h3V222.7h-3zM754.3 215.1h3V226.4h-3zM762 205.8h3V206.9h-3zM765.9 204.3h3V205.3h-3zM769.7 206.3h3V209.6h-3zM777.4 191.3h3V204.6h-3zM781.3 206.3h3V211.4h-3zM785.1 215.5h3V216.7h-3zM792.9 213h3V234.3h-3zM823.7 186.6h3V201.2h-3zM835.3 175.3h3V182.3h-3zM846.9 156.5h3V157.8h-3zM854.6 130.9h3V143.5h-3zM873.9 124.6h3V126.4h-3zM877.7 124.6h3V130.2h-3zM881.6 131.4h3V137.7h-3zM885.4 137.2h3V138.9h-3zM889.3 144h3V157.8h-3zM897 162.3h3V167.3h-3zM900.9 159h3V162.8h-3zM904.7 161.5h3V164h-3zM912.4 152.2h3V157.8h-3zM916.3 149h3V166h-3zM920.1 152.7h3V161h-3zM924 161.5h3V176.6h-3zM935.6 155.7h3V173.6h-3zM943.3 166.5h3V188.6h-3zM947.1 177.3h3V186.6h-3zM962.6 156h3V166h-3zM966.4 166.5h3V176.6h-3zM974.1 145.7h3V149h-3zM978 144.9h3V149.9h-3zM989.6 130.8h3V134.1h-3zM997.3 102.7h3V115.7h-3zM1001.2 128.3h3V136.6h-3zM1008.9 123.3h3V139.1h-3zM1016.6 124.8h3V128.5h-3zM1020.4 134.6h3V143.6h-3zM1024.3 137.8h3V142.8h-3zM1028.2 145.4h3V167.9h-3zM1039.7 172.2h3V173.2h-3zM1047.4 151.1h3V181.2h-3zM1070.6 125.3h3V127.3h-3zM1074.4 97.7h3V106h-3zM1082.2 107h3V115.7h-3zM1086 109.5h3V121.5h-3zM1089.9 116.5h3V117.8h-3zM1093.7 122.3h3V129h-3zM1097.6 130.3h3V146.6h-3zM1101.4 143.4h3V150.4h-3zM1105.3 155.4h3V166.7h-3zM1109.2 160.4h3V169.2h-3zM1116.9 167.4h3V181.7h-3zM1120.7 169.9h3V175h-3zM1128.4 148.4h3V157.4h-3zM1140 153.4h3V164.2h-3zM1151.6 163.7h3V164.7h-3zM1155.4 159.2h3V166.7h-3zM1159.3 163.4h3V172.2h-3zM1163.2 172.2h3V183.8h-3zM1186.3 142.2h3V147.7h-3zM1190.2 137.6h3V158.5h-3zM1201.7 152.7h3V174h-3zM1205.6 166.5h3V180.3h-3zM1209.5 177.8h3V184.1h-3zM1213.3 185.3h3V192.1h-3zM1217.2 186.6h3V189.8h-3zM1221 184.6h3V189.8h-3zM1224.9 186.1h3V189.8h-3zM1228.7 191.1h3V197.1h-3zM1232.6 202.4h3V206.6h-3zM1236.5 204.1h3V223h-3zM1240.3 229.2h3V254.3h-3zM1255.7 170.3h3V180.8h-3zM1259.6 180.8h3V191.6h-3zM1263.5 186.6h3V203.4h-3zM1267.3 200.4h3V204.1h-3zM1282.7 190.3h3V199.6h-3zM1290.5 198.6h3V204.6h-3zM1298.2 198.6h3V216.7h-3zM1309.7 243.8h3V253.6h-3zM1321.3 223h3V226.7h-3zM1329 215.9h3V221.7h-3zM1336.7 218.7h3V223h-3zM1344.5 207.9h3V212.4h-3zM1348.3 196.6h3V238.5h-3zM1352.2 241.8h3V243h-3zM1359.9 236h3V239.8h-3zM1363.7 235h3V236.3h-3zM1367.6 234.8h3V246.8h-3zM1375.3 243.1h3V254.9h-3zM1383 256.6h3V277h-3zM1390.7 254.9h3V255.9h-3zM1406.2 218.2h3V225.2h-3zM1410 224.3h3V229.4h-3z" fill="#cf1a30"/>
<path d="M234.8 254.8H244V263.3H248.3L239.4 273.8L230.3 263.3H234.8z" fill="#b9283a"/>
<path d="M1385 283.4L1394.1 293.8H1390V302.5H1380.3V293.8H1376.1z" fill="#348f40"/>
<text x="967.9" y="272.8" font-size="19.2" font-weight="bold" fill="#17591b" textLength="50.6" lengthAdjust="spacingAndGlyphs">86,50</text>
<line x1="1354" y1="195" x2="1476.5" y2="195" stroke="#dd7c8a" stroke-width="1"/>
<circle cx="1353.5" cy="195" r="2" fill="#d8475a"/>
<rect x="1476.5" y="185.5" width="46.5" height="21" rx="4" ry="4" fill="#fce4e7" stroke="#c8384b" stroke-width="1"/>
<text x="1484.5" y="198.9" font-size="9.2" font-weight="bold" fill="#b8283b" textLength="31" lengthAdjust="spacingAndGlyphs">125.70</text>
<rect x="10" y="564.7" width="1581" height="1.3" fill="#6f6f6f"/>
<rect x="10" y="627.4" width="1581" height="1.3" fill="#6f6f6f"/>
<rect x="10" y="718.9" width="1581" height="1.3" fill="#6f6f6f"/>
<rect x="10" y="754.9" width="1581" height="1.3" fill="#6f6f6f"/>
<rect x="10" y="794.9" width="1581" height="1.3" fill="#6f6f6f"/>
<path d="M9.2 623.7h2.7V627.6h-2.7zM17 622.7h2.7V627.6h-2.7zM20.8 622.7h2.7V627.6h-2.7zM32.4 618.2h2.7V627.6h-2.7zM36.3 623h2.7V627.6h-2.7zM40.1 621.5h2.7V627.6h-2.7zM44 621.8h2.7V627.6h-2.7zM47.8 620h2.7V627.6h-2.7zM51.7 620h2.7V627.6h-2.7zM74.8 621.5h2.7V627.6h-2.7zM78.7 621.5h2.7V627.6h-2.7zM86.4 619.2h2.7V627.6h-2.7zM94.1 620.7h2.7V627.6h-2.7zM105.7 620.7h2.7V627.6h-2.7zM113.4 587h2.7V627.6h-2.7zM121.1 613.2h2.7V627.6h-2.7zM125 615.8h2.7V627.6h-2.7zM136.5 616.2h2.7V627.6h-2.7zM144.3 610.5h2.7V627.6h-2.7zM163.5 611.3h2.7V627.6h-2.7zM171.3 623.4h2.7V627.6h-2.7zM175.1 621.2h2.7V627.6h-2.7zM182.8 621.9h2.7V627.6h-2.7zM190.5 620.3h2.7V627.6h-2.7zM194.4 620.3h2.7V627.6h-2.7zM198.3 613.2h2.7V627.6h-2.7zM209.8 617.7h2.7V627.6h-2.7zM221.4 616.5h2.7V627.6h-2.7zM229.1 611.3h2.7V627.6h-2.7zM236.8 614.7h2.7V627.6h-2.7zM240.7 619.2h2.7V627.6h-2.7zM260 614.7h2.7V627.6h-2.7zM263.8 605.3h2.7V627.6h-2.7zM267.7 610.5h2.7V627.6h-2.7zM271.6 614.7h2.7V627.6h-2.7zM275.4 616.5h2.7V627.6h-2.7zM294.7 615.8h2.7V627.6h-2.7zM302.4 614.7h2.7V627.6h-2.7zM306.3 616.5h2.7V627.6h-2.7zM314 614h2.7V627.6h-2.7zM329.4 615.8h2.7V627.6h-2.7zM337.1 605.3h2.7V627.6h-2.7zM344.8 598.2h2.7V627.6h-2.7zM356.4 606.9h2.7V627.6h-2.7zM364.1 612.2h2.7V627.6h-2.7zM368 608.7h2.7V627.6h-2.7zM375.7 614.7h2.7V627.6h-2.7zM387.3 615.5h2.7V627.6h-2.7zM391.1 621h2.7V627.6h-2.7zM395 619.2h2.7V627.6h-2.7zM398.8 613.2h2.7V627.6h-2.7zM418.1 614.7h2.7V627.6h-2.7zM422 618.2h2.7V627.6h-2.7zM425.8 614.7h2.7V627.6h-2.7zM437.4 608.7h2.7V627.6h-2.7zM445.1 609.5h2.7V627.6h-2.7zM452.9 621h2.7V627.6h-2.7zM464.4 620h2.7V627.6h-2.7zM476 616.5h2.7V627.6h-2.7zM483.7 616.5h2.7V627.6h-2.7zM487.6 621h2.7V627.6h-2.7zM495.3 621.9h2.7V627.6h-2.7zM499.1 620h2.7V627.6h-2.7zM506.9 617.3h2.7V627.6h-2.7zM510.7 621h2.7V627.6h-2.7zM514.6 620h2.7V627.6h-2.7zM518.4 618.2h2.7V627.6h-2.7zM522.3 614h2.7V627.6h-2.7zM533.9 612.2h2.7V627.6h-2.7zM541.6 619.2h2.7V627.6h-2.7zM545.4 620h2.7V627.6h-2.7zM549.3 618.2h2.7V627.6h-2.7zM553.1 621h2.7V627.6h-2.7zM560.9 620h2.7V627.6h-2.7zM564.7 622.7h2.7V627.6h-2.7zM584 609.5h2.7V627.6h-2.7zM591.7 600h2.7V627.6h-2.7zM611 610.5h2.7V627.6h-2.7zM614.9 610.5h2.7V627.6h-2.7zM618.7 615.5h2.7V627.6h-2.7zM622.6 612.9h2.7V627.6h-2.7zM626.4 610.5h2.7V627.6h-2.7zM630.3 603.5h2.7V627.6h-2.7zM641.9 611.3h2.7V627.6h-2.7zM649.6 614.7h2.7V627.6h-2.7zM665 615.5h2.7V627.6h-2.7zM668.9 619.2h2.7V627.6h-2.7zM672.7 619.2h2.7V627.6h-2.7zM676.6 614h2.7V627.6h-2.7zM680.4 610.5h2.7V627.6h-2.7zM688.2 619.2h2.7V627.6h-2.7zM692 617.3h2.7V627.6h-2.7zM695.9 618.2h2.7V627.6h-2.7zM711.3 615.5h2.7V627.6h-2.7zM715.2 615.5h2.7V627.6h-2.7zM719 616.5h2.7V627.6h-2.7zM722.9 616.5h2.7V627.6h-2.7zM726.7 621.9h2.7V627.6h-2.7zM730.6 615.5h2.7V627.6h-2.7zM738.3 616.5h2.7V627.6h-2.7zM746 612.9h2.7V627.6h-2.7zM749.9 619.2h2.7V627.6h-2.7zM757.6 615.8h2.7V627.6h-2.7zM773 619.2h2.7V627.6h-2.7zM788.4 620h2.7V627.6h-2.7zM796.2 614h2.7V627.6h-2.7zM800 617.3h2.7V627.6h-2.7zM803.9 615.5h2.7V627.6h-2.7zM807.7 621.9h2.7V627.6h-2.7zM811.6 618.2h2.7V627.6h-2.7zM815.4 617.3h2.7V627.6h-2.7zM819.3 614.7h2.7V627.6h-2.7zM827 611.3h2.7V627.6h-2.7zM830.9 605.3h2.7V627.6h-2.7zM838.6 609.5h2.7V627.6h-2.7zM842.4 609.5h2.7V627.6h-2.7zM850.2 608.7h2.7V627.6h-2.7zM857.9 618.2h2.7V627.6h-2.7zM861.7 616.5h2.7V627.6h-2.7zM865.6 617.3h2.7V627.6h-2.7zM869.5 618.2h2.7V627.6h-2.7zM892.6 611.3h2.7V627.6h-2.7zM908 616.5h2.7V627.6h-2.7zM927.3 610.5h2.7V627.6h-2.7zM931.2 614h2.7V627.6h-2.7zM938.9 612.2h2.7V627.6h-2.7zM950.5 614.7h2.7V627.6h-2.7zM954.3 611.3h2.7V627.6h-2.7zM958.2 612.2h2.7V627.6h-2.7zM969.7 614h2.7V627.6h-2.7zM981.3 617.3h2.7V627.6h-2.7zM985.2 615.5h2.7V627.6h-2.7zM992.9 608.7h2.7V627.6h-2.7zM1004.5 614.7h2.7V627.6h-2.7zM1012.2 610.5h2.7V627.6h-2.7zM1031.5 613.2h2.7V627.6h-2.7zM1035.3 617.3h2.7V627.6h-2.7zM1043 616.5h2.7V627.6h-2.7zM1050.7 606.9h2.7V627.6h-2.7zM1054.6 587h2.7V627.6h-2.7zM1058.5 614.7h2.7V627.6h-2.7zM1062.3 614h2.7V627.6h-2.7zM1066.2 612.9h2.7V627.6h-2.7zM1077.7 608.7h2.7V627.6h-2.7zM1112.5 615.5h2.7V627.6h-2.7zM1124 603.5h2.7V627.6h-2.7zM1131.8 619.2h2.7V627.6h-2.7zM1135.6 622.7h2.7V627.6h-2.7zM1143.3 620h2.7V627.6h-2.7zM1147.2 621.9h2.7V627.6h-2.7zM1166.5 603.5h2.7V627.6h-2.7zM1170.3 612.2h2.7V627.6h-2.7zM1174.2 608.7h2.7V627.6h-2.7zM1178 615.8h2.7V627.6h-2.7zM1181.9 615.8h2.7V627.6h-2.7zM1193.5 616.5h2.7V627.6h-2.7zM1197.3 612.2h2.7V627.6h-2.7zM1243.6 606.9h2.7V627.6h-2.7zM1247.5 603.5h2.7V627.6h-2.7zM1251.3 605.3h2.7V627.6h-2.7zM1270.6 614.7h2.7V627.6h-2.7zM1274.5 617.3h2.7V627.6h-2.7zM1278.3 619.2h2.7V627.6h-2.7zM1286 617.3h2.7V627.6h-2.7zM1293.8 614h2.7V627.6h-2.7zM1301.5 609.5h2.7V627.6h-2.7zM1305.3 596.4h2.7V627.6h-2.7zM1313.1 605.3h2.7V627.6h-2.7zM1316.9 598.2h2.7V627.6h-2.7zM1324.6 609.8h2.7V627.6h-2.7zM1332.3 612.2h2.7V627.6h-2.7zM1340.1 616.5h2.7V627.6h-2.7zM1355.5 610.5h2.7V627.6h-2.7zM1370.9 614h2.7V627.6h-2.7zM1378.6 616.5h2.7V627.6h-2.7zM1386.3 609.5h2.7V627.6h-2.7zM1394.1 614.7h2.7V627.6h-2.7zM1397.9 616.5h2.7V627.6h-2.7zM1401.8 616.5h2.7V627.6h-2.7zM1413.3 606.2h2.7V627.6h-2.7z" fill="#3da549"/>
<path d="M13.1 622.7h2.7V627.6h-2.7zM24.7 622.7h2.7V627.6h-2.7zM28.5 619.2h2.7V627.6h-2.7zM55.5 621.5h2.7V627.6h-2.7zM59.4 622.7h2.7V627.6h-2.7zM63.3 622.7h2.7V627.6h-2.7zM67.1 617.3h2.7V627.6h-2.7zM71 617.3h2.7V627.6h-2.7zM82.5 621.8h2.7V627.6h-2.7zM90.3 621.5h2.7V627.6h-2.7zM98 620.7h2.7V627.6h-2.7zM101.8 620.7h2.7V627.6h-2.7zM109.5 611.3h2.7V627.6h-2.7zM117.3 608h2.7V627.6h-2.7zM128.8 613.2h2.7V627.6h-2.7zM132.7 617h2.7V627.6h-2.7zM140.4 619.2h2.7V627.6h-2.7zM148.1 615h2.7V627.6h-2.7zM152 615.5h2.7V627.6h-2.7zM155.8 615.5h2.7V627.6h-2.7zM159.7 619.2h2.7V627.6h-2.7zM167.4 621.9h2.7V627.6h-2.7zM179 620.3h2.7V627.6h-2.7zM186.7 620.3h2.7V627.6h-2.7zM202.1 614.3h2.7V627.6h-2.7zM206 617.7h2.7V627.6h-2.7zM213.7 616.5h2.7V627.6h-2.7zM217.5 618.8h2.7V627.6h-2.7zM225.3 617.7h2.7V627.6h-2.7zM233 612.2h2.7V627.6h-2.7zM244.6 619.2h2.7V627.6h-2.7zM248.4 578h2.7V627.6h-2.7zM252.3 606.2h2.7V627.6h-2.7zM256.1 613.2h2.7V627.6h-2.7zM279.3 615.8h2.7V627.6h-2.7zM283.1 616.5h2.7V627.6h-2.7zM287 616.5h2.7V627.6h-2.7zM290.8 618.2h2.7V627.6h-2.7zM298.6 617.3h2.7V627.6h-2.7zM310.1 618.2h2.7V627.6h-2.7zM317.8 616.5h2.7V627.6h-2.7zM321.7 606.9h2.7V627.6h-2.7zM325.6 609.5h2.7V627.6h-2.7zM333.3 608.7h2.7V627.6h-2.7zM341 610.2h2.7V627.6h-2.7zM348.7 581.4h2.7V627.6h-2.7zM352.6 598.2h2.7V627.6h-2.7zM360.3 612.2h2.7V627.6h-2.7zM371.8 617.3h2.7V627.6h-2.7zM379.6 613.2h2.7V627.6h-2.7zM383.4 614h2.7V627.6h-2.7zM402.7 620h2.7V627.6h-2.7zM406.6 615.5h2.7V627.6h-2.7zM410.4 612.2h2.7V627.6h-2.7zM414.3 620h2.7V627.6h-2.7zM429.7 612.2h2.7V627.6h-2.7zM433.6 606.9h2.7V627.6h-2.7zM441.3 611.3h2.7V627.6h-2.7zM449 614.7h2.7V627.6h-2.7zM456.7 620h2.7V627.6h-2.7zM460.6 621h2.7V627.6h-2.7zM468.3 621h2.7V627.6h-2.7zM472.1 616.5h2.7V627.6h-2.7zM479.9 616.5h2.7V627.6h-2.7zM491.4 619.2h2.7V627.6h-2.7zM503 617.3h2.7V627.6h-2.7zM526.1 620h2.7V627.6h-2.7zM530 614h2.7V627.6h-2.7zM537.7 613.2h2.7V627.6h-2.7zM557 619.2h2.7V627.6h-2.7zM568.6 618.5h2.7V627.6h-2.7zM572.4 621.9h2.7V627.6h-2.7zM576.3 616.5h2.7V627.6h-2.7zM580.1 615.5h2.7V627.6h-2.7zM587.9 572.3h2.7V627.6h-2.7zM595.6 608.7h2.7V627.6h-2.7zM599.4 616.5h2.7V627.6h-2.7zM603.3 611.3h2.7V627.6h-2.7zM607.1 610.5h2.7V627.6h-2.7zM634.1 614h2.7V627.6h-2.7zM638 609.5h2.7V627.6h-2.7zM645.7 615.5h2.7V627.6h-2.7zM653.4 612.2h2.7V627.6h-2.7zM657.3 617.3h2.7V627.6h-2.7zM661.2 609.5h2.7V627.6h-2.7zM684.3 614h2.7V627.6h-2.7zM699.7 617.3h2.7V627.6h-2.7zM703.6 614.7h2.7V627.6h-2.7zM707.4 609.5h2.7V627.6h-2.7zM734.4 615.5h2.7V627.6h-2.7zM742.2 614h2.7V627.6h-2.7zM753.7 618.2h2.7V627.6h-2.7zM761.4 619.2h2.7V627.6h-2.7zM765.3 620h2.7V627.6h-2.7zM769.2 621h2.7V627.6h-2.7zM776.9 615.5h2.7V627.6h-2.7zM780.7 616.5h2.7V627.6h-2.7zM784.6 620h2.7V627.6h-2.7zM792.3 614h2.7V627.6h-2.7zM823.2 614.7h2.7V627.6h-2.7zM834.7 593h2.7V627.6h-2.7zM846.3 616.5h2.7V627.6h-2.7zM854 612.2h2.7V627.6h-2.7zM873.3 614h2.7V627.6h-2.7zM877.2 596.4h2.7V627.6h-2.7zM881 612.2h2.7V627.6h-2.7zM884.9 615.5h2.7V627.6h-2.7zM888.7 608h2.7V627.6h-2.7zM896.5 614.7h2.7V627.6h-2.7zM900.3 614h2.7V627.6h-2.7zM904.2 618.2h2.7V627.6h-2.7zM911.9 612.2h2.7V627.6h-2.7zM915.7 612.2h2.7V627.6h-2.7zM919.6 611.3h2.7V627.6h-2.7zM923.5 606.9h2.7V627.6h-2.7zM935 606.9h2.7V627.6h-2.7zM942.7 600.9h2.7V627.6h-2.7zM946.6 612.2h2.7V627.6h-2.7zM962 614h2.7V627.6h-2.7zM965.9 612.2h2.7V627.6h-2.7zM973.6 612.2h2.7V627.6h-2.7zM977.5 617.3h2.7V627.6h-2.7zM989 614.7h2.7V627.6h-2.7zM996.7 615.5h2.7V627.6h-2.7zM1000.6 612.9h2.7V627.6h-2.7zM1008.3 614h2.7V627.6h-2.7zM1016 617.3h2.7V627.6h-2.7zM1019.9 617.3h2.7V627.6h-2.7zM1023.7 617.3h2.7V627.6h-2.7zM1027.6 608.7h2.7V627.6h-2.7zM1039.2 615.8h2.7V627.6h-2.7zM1046.9 604.2h2.7V627.6h-2.7zM1070 600.9h2.7V627.6h-2.7zM1073.9 585.9h2.7V627.6h-2.7zM1081.6 612.9h2.7V627.6h-2.7zM1085.5 614h2.7V627.6h-2.7zM1089.3 613.2h2.7V627.6h-2.7zM1093.2 614.7h2.7V627.6h-2.7zM1097 605.3h2.7V627.6h-2.7zM1100.9 608.7h2.7V627.6h-2.7zM1104.8 608h2.7V627.6h-2.7zM1108.6 613.2h2.7V627.6h-2.7zM1116.3 615.5h2.7V627.6h-2.7zM1120.2 614h2.7V627.6h-2.7zM1127.9 614.7h2.7V627.6h-2.7zM1139.5 620h2.7V627.6h-2.7zM1151 621h2.7V627.6h-2.7zM1154.9 613.2h2.7V627.6h-2.7zM1158.8 608h2.7V627.6h-2.7zM1162.6 609.5h2.7V627.6h-2.7zM1185.8 614.7h2.7V627.6h-2.7zM1189.6 613.2h2.7V627.6h-2.7zM1201.2 604.2h2.7V627.6h-2.7zM1205 609.5h2.7V627.6h-2.7zM1208.9 616.5h2.7V627.6h-2.7zM1212.8 614.7h2.7V627.6h-2.7zM1216.6 614.7h2.7V627.6h-2.7zM1220.5 614.7h2.7V627.6h-2.7zM1224.3 613.2h2.7V627.6h-2.7zM1228.2 610.5h2.7V627.6h-2.7zM1232 614h2.7V627.6h-2.7zM1235.9 600.9h2.7V627.6h-2.7zM1239.8 592.2h2.7V627.6h-2.7zM1255.2 596.4h2.7V627.6h-2.7zM1259 603.5h2.7V627.6h-2.7zM1262.9 611.3h2.7V627.6h-2.7zM1266.8 615.5h2.7V627.6h-2.7zM1282.2 614.7h2.7V627.6h-2.7zM1289.9 617.3h2.7V627.6h-2.7zM1297.6 608h2.7V627.6h-2.7zM1309.2 579h2.7V627.6h-2.7zM1320.8 610.5h2.7V627.6h-2.7zM1328.5 612.9h2.7V627.6h-2.7zM1336.2 612.2h2.7V627.6h-2.7zM1343.9 605.3h2.7V627.6h-2.7zM1347.8 589.5h2.7V627.6h-2.7zM1351.6 608.7h2.7V627.6h-2.7zM1359.3 610.5h2.7V627.6h-2.7zM1363.2 610.5h2.7V627.6h-2.7zM1367.1 611.3h2.7V627.6h-2.7zM1374.8 613.2h2.7V627.6h-2.7zM1382.5 611.3h2.7V627.6h-2.7zM1390.2 614.7h2.7V627.6h-2.7zM1405.6 612.2h2.7V627.6h-2.7zM1409.5 616.5h2.7V627.6h-2.7z" fill="#f3233c"/>
<path d="M9 621.2C17.5 621.2 43.2 621.3 60 621.2C76.7 621 100.2 620.9 109.5 620.3C118.7 619.7 112.5 618.4 115.5 617.7C118.5 617.1 121.7 616.7 127.5 616.2C133.2 615.8 143.7 615.5 150 615.2C156.2 614.9 159.2 614.4 165 614.3C170.7 614.2 180 614.3 184.5 614.7C189 615.1 187.7 616.3 192 616.7C196.2 617.1 203 617.2 210 617.3C217 617.4 228.1 617.3 234 617.3C239.9 617.3 242.8 617.6 245.5 617.3C248.2 616.9 246.7 615.9 250 615.2C253.2 614.5 261.5 613.7 265 613.2C268.5 612.7 264.7 612.4 271 612.2C277.2 612 294 612.2 302.5 612.2C311 612.2 317.5 611.9 322 612.2C326.5 612.5 325.5 613.8 329.5 614C333.5 614.2 342 613.8 346 613.2C350 612.7 350 611.4 353.5 610.7C357 610 361.2 609.6 367 609.2C372.7 608.8 381.2 608.4 388 608.4C394.7 608.5 402.2 609.1 407.5 609.5C412.7 609.9 416 610.2 419.5 611C423 611.8 423.5 613.9 428.5 614.4C433.5 615 443 614.3 449.5 614.4C456 614.6 464.1 615.3 467.5 615.5C470.9 615.7 467.1 615.6 470 615.5C472.9 615.4 478.7 614.9 485 615C491.2 615.2 501.7 615.7 507.5 616.2C513.2 616.8 514.5 618 519.5 618.2C524.5 618.4 530.7 617.4 537.5 617.3C544.2 617.2 553.7 617.7 560 617.7C566.2 617.8 570.7 617.8 575 617.7C579.2 617.7 583 617.8 585.5 617.3C588 616.8 588 615.4 590 614.7C592 614.1 592.5 613.8 597.5 613.5C602.5 613.2 613.7 613.4 620 612.9C626.2 612.5 630 611.6 635 611C640 610.4 645.5 609.9 650 609.5C654.5 609.1 658.7 608.3 662 608.7C665.2 609.2 665.2 611.6 669.5 612.2C673.7 612.8 681.7 612.1 687.5 612.5C693.2 612.9 697.3 614 704 614.4C710.7 614.9 719.8 615 727.5 615.2C735.2 615.4 742.5 615.3 750 615.5C757.5 615.7 765 616 772.5 616.2C780 616.5 788.7 616.9 795 617C801.2 617 805 616.5 810 616.5C815 616.6 821.2 617.3 825 617.3C828.7 617.3 830 617 832.5 616.5C835 616.1 836.2 615.2 840 614.7C843.7 614.2 849.2 613.8 855 613.5C860.7 613.3 869.5 613.6 874.5 613.2C879.5 612.9 880.7 611.9 885 611.4C889.2 611 895.5 610.6 900 610.7C904.5 610.8 907 611.9 912 612.2C917 612.4 925.5 612.3 930 612.2C934.5 612.1 935.8 611.7 939 611.4C942.2 611.2 946.3 610.7 949 610.7C951.7 610.7 947.7 611.3 955 611.4C962.2 611.6 982.5 611.3 992.5 611.4C1002.5 611.6 1009.7 611.8 1015 612.2C1020.2 612.6 1019 613.6 1024 614C1029 614.4 1039.5 614.7 1045 614.4C1050.5 614.1 1052.5 612.8 1057 612.2C1061.5 611.6 1068.7 611.4 1072 611C1075.2 610.5 1072.2 609.8 1076.5 609.5C1080.7 609.2 1092.7 609.4 1097.5 609.2C1102.2 609 1100 608.5 1105 608.3C1110 608.1 1122.7 607.7 1127.5 608C1132.2 608.3 1130.5 609.7 1133.5 610.2C1136.5 610.8 1142.2 610.7 1145.5 611.4C1148.7 612.1 1149.7 614 1153 614.4C1156.2 614.9 1161.5 614.1 1165 614C1168.5 613.9 1169.8 613.6 1174 613.7C1178.2 613.8 1184.8 614.3 1190 614.4C1195.2 614.6 1198.7 614.8 1205 614.4C1211.2 614.1 1221.2 612.8 1227.5 612.2C1233.7 611.6 1238.2 611.3 1242.5 611C1246.7 610.7 1249.7 611 1253 610.5C1256.2 610.1 1258.7 608.7 1262 608.4C1265.2 608.1 1269.5 608.6 1272.5 608.7C1275.5 608.9 1276.2 609.3 1280 609.5C1283.7 609.7 1290.5 610.2 1295 609.9C1299.5 609.7 1304.2 608.5 1307 608C1309.7 607.5 1308.5 607 1311.5 606.9C1314.5 606.9 1320.2 607.1 1325 607.5C1329.7 608 1336 609.4 1340 609.5C1344 609.6 1346 608.4 1349 608C1352 607.6 1354.5 607.2 1358 606.9C1361.5 606.6 1366.2 606.2 1370 606.2C1373.7 606.2 1377.2 606.4 1380.5 606.9C1383.7 607.4 1386.2 608.5 1389.5 609.2C1392.7 609.9 1395.7 610.6 1400 611C1404.2 611.3 1412.5 611.2 1415 611.3" fill="none" stroke="#2f55c0" stroke-width="1.2" stroke-linejoin="round"/>
<path d="M1415.3 580.5l4.5 6.5h-2.7v10h-3.6v-10h-2.7z" fill="#2f8f3c"/>
<line x1="10" y1="652.5" x2="1535" y2="652.5" stroke="#7c7f8a" stroke-width="1" stroke-dasharray="4.4 5.19" stroke-dashoffset="1.29"/>
<line x1="10" y1="702.3" x2="1535" y2="702.3" stroke="#7c7f8a" stroke-width="1" stroke-dasharray="4.4 5.19" stroke-dashoffset="1.29"/>
<rect x="10" y="676.3" width="1525" height="1.5" fill="#bcc6ea"/>
<path d="M9 653.4C11.2 653.3 19 652.4 22.5 652.5C26 652.7 27.2 653.8 30 654.5C32.7 655.1 35.5 656.3 39 656.4C42.5 656.6 47 655.4 51 655.2C55 655.1 59.7 655 63 655.5C66.2 656 68 657.3 70.5 658.2C73 659.2 74.7 660.7 78 661.2C81.2 661.8 86.5 661.3 90 661.5C93.5 661.7 95.5 661.7 99 662.4C102.5 663.1 107.5 665.7 111 665.7C114.5 665.8 117.2 664 120 662.7C122.7 661.4 125 659.1 127.5 657.9C130 656.7 132.5 656.2 135 655.5C137.5 654.8 140 654.4 142.5 653.7C145 653.1 147.5 651.9 150 651.5C152.5 651.1 155 651.2 157.5 651.5C160 651.7 162.5 652.3 165 653C167.5 653.7 170 654.6 172.5 655.5C175 656.5 177.2 657.6 180 658.5C182.7 659.4 185.7 660.2 189 660.9C192.2 661.7 196 662.5 199.5 663C203 663.5 206.7 663.6 210 663.9C213.2 664.3 216 664.7 219 665C222 665.2 225.5 665.5 228 665.4C230.5 665.4 231.8 665 234 664.5C236.2 664 239.2 662.9 241 662.4C242.8 662 243.2 661.4 244.7 662C246.2 662.5 247.9 664.5 250 665.7C252.1 667 255 668.6 257.5 669.5C260 670.4 262.2 670.8 265 671C267.7 671.2 271 670.6 274 670.7C277 670.8 280 671.1 283 671.7C286 672.4 289.2 673.8 292 674.7C294.7 675.7 297 677.4 299.5 677.4C302 677.4 304.5 675.4 307 674.7C309.5 674.1 312.2 673.7 314.5 673.7C316.7 673.7 318.2 674.1 320.5 674.7C322.7 675.4 325.2 676.5 328 677.7C330.7 679 334 680.9 337 682.2C340 683.6 343 684.9 346 686C349 687.1 352.2 687.9 355 689C357.7 690.1 360 691.5 362.5 692.4C365 693.4 367.5 694.2 370 694.5C372.5 694.8 375 694.5 377.5 694.2C380 694 382.2 693.6 385 693.2C387.7 692.8 391 692.5 394 692C397 691.5 400 690.8 403 690.2C406 689.6 409.2 688.7 412 688.2C414.7 687.8 417 687.6 419.5 687.5C422 687.4 424.5 687.2 427 687.5C429.5 687.7 431.5 688.7 434.5 689C437.5 689.3 441.2 689.3 445 689.4C448.7 689.6 453.5 690 457 690C460.5 690 464 689.6 466 689.4C468 689.3 467.3 689.1 469 689C470.7 688.9 473.6 689.3 476 689C478.4 688.7 481 687.9 483.5 687.2C486 686.4 488.2 685.3 491 684.5C493.7 683.7 497 683.2 500 682.2C503 681.3 505.7 680.2 509 678.9C512.2 677.7 516 676.6 519.5 674.7C523 672.9 526.7 669.9 530 668C533.2 666 536 664.5 539 663C542 661.5 545.2 660.3 548 659C550.7 657.7 553 656.2 555.5 655.2C558 654.3 560.2 654.2 563 653.4C565.7 652.7 569.2 651.4 572 650.7C574.7 650.1 577 649.7 579.5 649.5C582 649.4 584.5 650.1 587 650C589.5 649.9 592 648.9 594.5 648.9C597 648.9 599.5 649.6 602 650C604.5 650.4 607 651.1 609.5 651.5C612 651.9 614.5 652.2 617 652.5C619.5 652.9 622 653.5 624.5 653.4C627 653.4 629.5 652.7 632 652.2C634.5 651.8 637 651.1 639.5 650.7C642 650.4 644.2 650.4 647 650C649.7 649.6 653 648.9 656 648.5C659 648.1 661.7 647.9 665 647.7C668.2 647.6 672 647.4 675.5 647.4C679 647.5 682.7 647.9 686 648C689.2 648.2 692.2 648 695 648.2C697.7 648.4 700.8 648.9 702.5 649.2C704.2 649.5 703.3 649.3 705 650C706.7 650.7 709.7 652.6 712.5 653.4C715.2 654.3 718.5 654.6 721.5 654.9C724.5 655.3 727.2 655.5 730.5 655.5C733.7 655.6 737.7 655 741 655.2C744.2 655.5 747.2 656.5 750 657C752.7 657.5 755 658.2 757.5 658.2C760 658.2 762.2 657.5 765 657C767.7 656.5 771.2 655.5 774 655.2C776.7 655 779 655.2 781.5 655.5C784 655.9 786.5 656.5 789 657.5C791.5 658.4 794 660.2 796.5 661.2C799 662.2 801.2 662.8 804 663.5C806.7 664.2 810 664.9 813 665.3C816 665.7 818.7 665.3 822 665.7C825.2 666.1 829.5 667.6 832.5 667.7C835.5 667.8 837.7 667.1 840 666.5C842.2 665.9 844 665.2 846 664.2C848 663.2 849.7 661.7 852 660.5C854.2 659.2 857 657.9 859.5 656.7C862 655.6 864.5 654.7 867 653.7C869.5 652.8 872.2 652 874.5 651.2C876.7 650.4 878.5 649.4 880.5 648.9C882.5 648.4 884.5 648 886.5 648.2C888.5 648.4 890.2 649 892.5 650C894.7 651 897.5 652.7 900 654C902.5 655.4 905 656.9 907.5 658.2C910 659.6 912.5 660.6 915 662C917.5 663.4 920 664.9 922.5 666.5C925 668.1 927.5 670 930 671.4C932.5 672.9 935.8 674.4 937.5 675.2C939.2 676 938.3 675.8 940 676.2C941.7 676.7 944.5 677.4 947.5 677.7C950.5 678 954.7 678 958 678C961.2 678 964 677.9 967 677.7C970 677.6 973 677.7 976 677.3C979 676.9 982.2 676.2 985 675.5C987.7 674.8 990 673.9 992.5 672.9C995 672 997.5 670.7 1000 669.9C1002.5 669.2 1005 668.8 1007.5 668.4C1010 668.1 1012.5 668.1 1015 668C1017.5 667.9 1020 667.4 1022.5 667.7C1025 667.9 1027.5 668.7 1030 669.5C1032.5 670.2 1035 671.2 1037.5 672.2C1040 673.1 1042.5 674.1 1045 675.2C1047.5 676.3 1050 677.9 1052.5 678.8C1055 679.6 1057.5 680.2 1060 680.3C1062.5 680.4 1065 679.7 1067.5 679.2C1070 678.8 1072.5 678.4 1075 677.7C1077.5 677.1 1080 676.3 1082.5 675.5C1085 674.7 1087.5 673.7 1090 672.9C1092.5 672.2 1095 671.4 1097.5 671C1100 670.6 1102.5 670.4 1105 670.5C1107.5 670.7 1110 671.2 1112.5 672C1115 672.9 1117.5 674.5 1120 675.5C1122.5 676.4 1125 676.9 1127.5 677.7C1130 678.6 1132.5 679.6 1135 680.4C1137.5 681.3 1140 682.1 1142.5 682.7C1145 683.3 1147.5 683.8 1150 684.2C1152.5 684.6 1155 684.7 1157.5 684.9C1160 685.2 1162.5 685.7 1165 685.5C1167.5 685.4 1170.8 684.5 1172.5 684.2C1174.2 683.9 1173.3 684.2 1175 683.7C1176.7 683.3 1180 682.1 1182.5 681.5C1185 680.9 1187.5 680.7 1190 680.3C1192.5 679.9 1195 679.3 1197.5 679.2C1200 679.1 1202.2 679.5 1205 679.7C1207.7 679.9 1211 680.2 1214 680.4C1217 680.7 1220.2 680.6 1223 681.2C1225.7 681.7 1228 682.4 1230.5 683.7C1233 685 1235.5 687.3 1238 689C1240.5 690.7 1243.1 692.9 1245.5 693.9C1247.9 695 1250 695.3 1252.2 695.3C1254.5 695.3 1256.4 694.5 1259 693.9C1261.6 693.4 1265 692.7 1268 692C1271 691.2 1274 690.4 1277 689.4C1280 688.5 1283.2 687.5 1286 686.4C1288.7 685.4 1291.2 684.1 1293.5 683.3C1295.7 682.5 1297.5 681.8 1299.5 681.5C1301.5 681.2 1303.2 681.2 1305.5 681.5C1307.7 681.8 1310.2 682.9 1313 683.4C1315.7 683.9 1319 684.2 1322 684.5C1325 684.7 1328.2 684.8 1331 684.9C1333.7 685.1 1336 685.3 1338.5 685.2C1341 685.2 1343.2 684.5 1346 684.5C1348.7 684.4 1352.2 685.1 1355 684.9C1357.7 684.8 1360 684 1362.5 683.7C1365 683.5 1367.5 683.3 1370 683.4C1372.5 683.6 1375 684.4 1377.5 684.8C1380 685.2 1382.5 685.6 1385 686C1387.5 686.4 1390 686.8 1392.5 687C1395 687.3 1397.5 687.7 1400 687.5C1402.5 687.2 1405 686.3 1407.5 685.5C1410 684.7 1413.7 683.2 1415 682.7" fill="none" stroke="#f0844a" stroke-width="1.1" stroke-linejoin="round"/>
<path d="M9 656.4L15 655.2L22.5 647.7L30.7 671L34.2 662L37.5 663.5L42 658.2L46.5 650.7L50.2 646.2L53.2 645.5L57.7 653L61.5 653.7L64.5 656L69 671.7L72.4 679.5L77.2 676.2L80.7 667.2L84.7 670.5L88.2 662.4L91.8 663.9L96 661.5L99.7 662.7L103.8 666.5L107.2 659L111.7 663L115.2 637.7L119.2 641.7L122.2 641L127.5 640.2L130.9 654.5L134.2 655.2L138 653L141.7 655.2L145.2 648.5L150 647.7L153.3 661.5L157.8 667.2L161.2 666.5L165 664.7L168.7 664.2L172.5 661.5L177 660.5L180.7 666.2L184.5 665.7L188.5 670.5L192 665L196.5 662.7L199.5 657.5L204 661.2L207.7 665.7L211.5 664.2L215.5 674L219.3 673.2L223 663.5L226.5 663.5L231 657.9L234.7 656L238.7 651.8L242.5 655.2L246.2 665L250 694.7L253.7 691.2L257.8 690.2L261.5 682.7L265.7 676.5L269.5 674L273.2 668.7L277 666.2L280.7 666.2L285.2 669.5L288.7 669.9L292.7 674.7L296.5 678L300.2 679.2L304 678.9L308 672.2L311.8 677L316 678.2L319.4 684.9L323.5 692L326.9 695.4L331 688.2L334.7 696.5L338.8 692.4L342.5 696.5L346 690.5L350.2 696.5L354.2 700.5L358.3 698L361.7 701L365.8 695L369.5 689L373 691.2L377.2 685.5L381.2 687.9L385 690.5L389 686.4L392.8 686.4L396.5 687L400.4 680.3L404.5 682.2L408.7 687.5L412.4 690.5L416.2 692.4L420.2 693L423.7 690.5L427.4 687L431.5 693.9L435.2 698.4L439.3 693.5L443 693.9L446.5 679.7L451 686L454.7 685.2L458.5 684.5L462.2 684.5L466 686.4L469.7 688.2L473.3 690.9L477.5 686.7L481.2 679.2L485 676.2L489 673.2L492.8 674.4L500.7 674.4L504.5 669.9L508.5 663.9L512.4 663.5L516.5 666.5L520.2 665L524 659.3L527.7 661.2L531.5 654.5L535.2 648.8L539 648.2L543 648.8L546.8 648.2L551 645.5L554.7 645.5L558.9 652.2L562.7 651L566.4 650L570.2 646.7L574.2 650.3L578 649.2L581.7 660.5L585.5 657.5L589.5 644L593.7 640.5L597.2 649.5L600.9 650.7L604.5 655.2L608.4 662.4L612.2 658.2L616.2 654.5L620.4 656.4L624 650L627.5 649.2L631.7 644L635.4 643.7L639.5 646.2L643.5 640.5L647.3 640.5L651 638.4L654.9 642.9L659 645.5L662.7 658.5L666.5 656.7L670.5 651.8L674.3 653.7L678 653.4L681.8 648.5L686 649.2L689.7 648.2L693.5 648.2L697.5 644L701.4 647.7L705 654.5L708.7 668.4L712.8 665L716.7 670.5L720.7 663L724.5 659.3L728.2 658.7L732 651.8L735.7 650L740.2 644.7L744 654L748 661.7L751.5 655.5L755.2 662.3L759 656.7L762.7 654.5L767.2 653.3L770.7 657L775 651.5L778.5 658.7L782.2 664.5L786 665.4L789.7 663.5L793.9 680.3L797.7 680.4L801.7 674.7L805.5 671L809.2 669.2L813 665L816.7 661.7L821.2 654.5L825 666.2L828.7 665.4L832.5 665L836.2 657.5L840 653L843.7 648.8L847.5 648.2L851.7 641.3L856.2 647.4L860.2 645.8L864 645L870.7 645L875.2 641.3L879 645.5L882.7 654L886.8 657L890.5 672L894.3 676.5L898 678.8L902.2 675.8L906 676.2L909.7 676.7L913.5 672L917.2 678L921.3 674.4L925 684.5L929.2 673.2L932.7 671.4L936.4 681.9L940 674L944.2 686.7L948.2 685.5L952 681.5L955.7 676.5L959.9 671L963.7 677L967.7 681L971.5 671.7L975.5 669.5L979.3 669.9L983.5 665.4L986.9 660.5L990.7 664.2L994.7 655.2L998.5 661.2L1002.5 671.4L1006.3 667.2L1010 673.5L1013.5 673.2L1017.2 669.5L1021.7 676.5L1025.5 675.9L1029.5 684.9L1033.3 683.3L1036.7 683.4L1040.9 686.4L1044.7 684.9L1049.2 689L1052.5 689.4L1056.7 677.7L1060.4 674.4L1064.2 668.4L1068.2 662.3L1071.7 666.5L1075.7 659L1079.5 658.5L1083.7 664.5L1087.4 668.4L1091.2 666.5L1095.2 673.7L1099 680L1102.7 682.2L1106.8 687.8L1110.5 688.5L1114.3 689.7L1118 692.7L1122.2 689L1126 680.4L1129.7 680.4L1133.5 682.2L1138 680L1141.7 684L1145.5 683.4L1149.2 683.7L1153 684.5L1157 684.9L1160.5 687.5L1164.2 693.5L1168.3 684L1172 683.4L1175 677L1179.5 670.2L1184 665.4L1187.4 670.5L1191.2 677.7L1195.2 676.2L1199 674L1203 686L1206.8 689.4L1211 691.2L1214.7 693.9L1218.5 691.5L1226 691.5L1229.7 693.9L1233.5 697.2L1237.2 702.5L1241.7 711L1244.7 710.7L1248.5 695.4L1252.2 683L1257.2 673.7L1260.9 678.5L1265 683L1268.4 683.3L1272.5 679.7L1276.2 677.3L1280 675.2L1284.2 680.7L1287.5 681.2L1291.7 684L1295.7 680.7L1299.2 687.9L1303.2 689.7L1307 687.5L1311.2 698.7L1314.9 693.5L1318.7 681.9L1322.7 684.9L1326.5 679.7L1330.2 682.5L1334 679.2L1338 682.7L1341.8 677.3L1345.2 677.7L1349.7 687.5L1353 689.4L1357.2 684L1361 686.7L1365 684.9L1368.9 688.7L1372.7 684.9L1376.7 690.2L1380.5 691.7L1384.5 696L1388.3 689.7L1392.5 687.2L1396.2 681.8L1400 680L1404 676.2L1407.5 672.8L1411.5 674.7L1415.6 665" fill="none" stroke="#2f62e6" stroke-width="1.1" stroke-linejoin="round"/>
<line x1="1214" y1="715.2" x2="1442.7" y2="688.2" stroke="#17591b" stroke-width="2" stroke-linecap="round"/>
<path d="M1432.3 680L1442.7 688.2L1433.9 697.8" fill="none" stroke="#17591b" stroke-width="2" stroke-linecap="round" stroke-linejoin="round"/>
<text x="1341.5" y="713.4" font-size="14.5" font-weight="bold" fill="#17591b" textLength="34.5" lengthAdjust="spacingAndGlyphs">Div.+</text>
<line x1="10" y1="737.7" x2="1535" y2="737.7" stroke="#c9cbd2" stroke-width="1" stroke-dasharray="4.4 5.19" stroke-dashoffset="1.29"/>
<path d="M9.2 737.4h2.7V737.7h-2.7zM13.1 737.4h2.7V737.7h-2.7zM17 737.3h2.7V737.7h-2.7zM20.8 737.3h2.7V737.7h-2.7zM24.7 737.2h2.7V737.7h-2.7zM28.5 737.2h2.7V737.7h-2.7zM32.4 737.1h2.7V737.7h-2.7zM36.3 737.1h2.7V737.7h-2.7zM40.1 737h2.7V737.7h-2.7zM44 737h2.7V737.7h-2.7zM47.8 736.9h2.7V737.7h-2.7zM90.3 737.3h2.7V737.7h-2.7zM94.1 737.2h2.7V737.7h-2.7zM98 737.1h2.7V737.7h-2.7zM101.8 737h2.7V737.7h-2.7zM105.7 736.9h2.7V737.7h-2.7zM109.5 734.6h2.7V737.7h-2.7zM113.4 732.4h2.7V737.7h-2.7zM117.3 730.9h2.7V737.7h-2.7zM121.1 729.6h2.7V737.7h-2.7zM125 729.5h2.7V737.7h-2.7zM229.1 736.8h2.7V737.7h-2.7zM233 735.7h2.7V737.7h-2.7zM236.8 735.2h2.7V737.7h-2.7zM240.7 734.8h2.7V737.7h-2.7zM279.3 735.7h2.7V737.7h-2.7zM383.4 737.2h2.7V737.7h-2.7zM387.3 736.3h2.7V737.7h-2.7zM391.1 735.5h2.7V737.7h-2.7zM395 734.8h2.7V737.7h-2.7zM398.8 733.7h2.7V737.7h-2.7zM402.7 733.7h2.7V737.7h-2.7zM418.1 736.6h2.7V737.7h-2.7zM422 736.2h2.7V737.7h-2.7zM445.1 736.4h2.7V737.7h-2.7zM449 735.7h2.7V737.7h-2.7zM452.9 735.5h2.7V737.7h-2.7zM456.7 735.3h2.7V737.7h-2.7zM460.6 735.3h2.7V737.7h-2.7zM472.1 735.8h2.7V737.7h-2.7zM476 735.1h2.7V737.7h-2.7zM479.9 734.3h2.7V737.7h-2.7zM483.7 733.5h2.7V737.7h-2.7zM487.6 733h2.7V737.7h-2.7zM491.4 732.7h2.7V737.7h-2.7zM503 732.7h2.7V737.7h-2.7zM506.9 732.6h2.7V737.7h-2.7zM510.7 732.5h2.7V737.7h-2.7zM522.3 732.7h2.7V737.7h-2.7zM526.1 732.4h2.7V737.7h-2.7zM530 732.2h2.7V737.7h-2.7zM533.9 731.9h2.7V737.7h-2.7zM537.7 731.7h2.7V737.7h-2.7zM587.9 735.5h2.7V737.7h-2.7zM591.7 734.8h2.7V737.7h-2.7zM595.6 734.3h2.7V737.7h-2.7zM614.9 737.4h2.7V737.7h-2.7zM618.7 736.7h2.7V737.7h-2.7zM622.6 736h2.7V737.7h-2.7zM626.4 735.4h2.7V737.7h-2.7zM630.3 734.8h2.7V737.7h-2.7zM634.1 734.2h2.7V737.7h-2.7zM641.9 733.7h2.7V737.7h-2.7zM645.7 733.4h2.7V737.7h-2.7zM649.6 733.3h2.7V737.7h-2.7zM734.4 736.1h2.7V737.7h-2.7zM738.3 735.2h2.7V737.7h-2.7zM753.7 735.7h2.7V737.7h-2.7zM757.6 735.2h2.7V737.7h-2.7zM761.4 735.1h2.7V737.7h-2.7zM819.3 736.3h2.7V737.7h-2.7zM830.9 737.2h2.7V737.7h-2.7zM834.7 735.3h2.7V737.7h-2.7zM838.6 733.1h2.7V737.7h-2.7zM842.4 730.8h2.7V737.7h-2.7zM846.3 728.9h2.7V737.7h-2.7zM850.2 726.5h2.7V737.7h-2.7zM854 726.3h2.7V737.7h-2.7zM973.6 734.5h2.7V737.7h-2.7zM977.5 733.3h2.7V737.7h-2.7zM981.3 731.5h2.7V737.7h-2.7zM985.2 728.8h2.7V737.7h-2.7zM989 727.7h2.7V737.7h-2.7zM992.9 725.2h2.7V737.7h-2.7zM996.7 725h2.7V737.7h-2.7zM1062.3 736.9h2.7V737.7h-2.7zM1066.2 731.2h2.7V737.7h-2.7zM1070 727.5h2.7V737.7h-2.7zM1073.9 725.4h2.7V737.7h-2.7zM1077.7 724.2h2.7V737.7h-2.7zM1174.2 734.7h2.7V737.7h-2.7zM1178 732.1h2.7V737.7h-2.7zM1181.9 730.7h2.7V737.7h-2.7zM1255.2 736.4h2.7V737.7h-2.7zM1259 734h2.7V737.7h-2.7zM1262.9 733.1h2.7V737.7h-2.7zM1266.8 732.6h2.7V737.7h-2.7zM1270.6 732.1h2.7V737.7h-2.7zM1274.5 731.2h2.7V737.7h-2.7zM1278.3 730.8h2.7V737.7h-2.7zM1324.6 737.1h2.7V737.7h-2.7zM1328.5 736.7h2.7V737.7h-2.7zM1332.3 735h2.7V737.7h-2.7zM1340.1 733.6h2.7V737.7h-2.7zM1343.9 733.4h2.7V737.7h-2.7zM1397.9 735.9h2.7V737.7h-2.7zM1401.8 733.6h2.7V737.7h-2.7zM1405.6 732.5h2.7V737.7h-2.7zM1409.5 731h2.7V737.7h-2.7zM1413.3 728.8h2.7V737.7h-2.7z" fill="#3da549"/>
<path d="M51.7 737h2.7V737.7h-2.7zM55.5 737.2h2.7V737.7h-2.7zM59.4 737.3h2.7V737.7h-2.7zM63.3 737.3h2.7V737.7h-2.7zM128.8 732.1h2.7V737.7h-2.7zM132.7 733.7h2.7V737.7h-2.7zM136.5 734.2h2.7V737.7h-2.7zM140.4 734.7h2.7V737.7h-2.7zM144.3 735.2h2.7V737.7h-2.7zM148.1 735.8h2.7V737.7h-2.7zM152 736.5h2.7V737.7h-2.7zM155.8 737.4h2.7V737.7h-2.7zM283.1 735.7h2.7V737.7h-2.7zM287 735.7h2.7V737.7h-2.7zM290.8 736.1h2.7V737.7h-2.7zM406.6 734.7h2.7V737.7h-2.7zM410.4 736.2h2.7V737.7h-2.7zM414.3 737h2.7V737.7h-2.7zM425.8 736.4h2.7V737.7h-2.7zM464.4 736h2.7V737.7h-2.7zM468.3 736.2h2.7V737.7h-2.7zM495.3 732.7h2.7V737.7h-2.7zM499.1 732.7h2.7V737.7h-2.7zM514.6 732.7h2.7V737.7h-2.7zM518.4 732.9h2.7V737.7h-2.7zM541.6 731.8h2.7V737.7h-2.7zM545.4 732.1h2.7V737.7h-2.7zM549.3 732.4h2.7V737.7h-2.7zM553.1 732.9h2.7V737.7h-2.7zM557 734.3h2.7V737.7h-2.7zM560.9 734.7h2.7V737.7h-2.7zM564.7 735.2h2.7V737.7h-2.7zM568.6 735.7h2.7V737.7h-2.7zM572.4 736.2h2.7V737.7h-2.7zM576.3 736.9h2.7V737.7h-2.7zM580.1 737.3h2.7V737.7h-2.7zM584 737.4h2.7V737.7h-2.7zM599.4 735.8h2.7V737.7h-2.7zM603.3 736.4h2.7V737.7h-2.7zM607.1 737.1h2.7V737.7h-2.7zM611 737.4h2.7V737.7h-2.7zM638 734.6h2.7V737.7h-2.7zM653.4 733.9h2.7V737.7h-2.7zM657.3 735.3h2.7V737.7h-2.7zM742.2 735.5h2.7V737.7h-2.7zM746 736.2h2.7V737.7h-2.7zM749.9 736.3h2.7V737.7h-2.7zM765.3 735.3h2.7V737.7h-2.7zM769.2 735.5h2.7V737.7h-2.7zM773 735.6h2.7V737.7h-2.7zM776.9 736.6h2.7V737.7h-2.7zM823.2 737.2h2.7V737.7h-2.7zM827 737.3h2.7V737.7h-2.7zM857.9 726.7h2.7V737.7h-2.7zM861.7 727.3h2.7V737.7h-2.7zM865.6 728.3h2.7V737.7h-2.7zM869.5 729.7h2.7V737.7h-2.7zM873.3 729.9h2.7V737.7h-2.7zM877.2 731.1h2.7V737.7h-2.7zM881 733.7h2.7V737.7h-2.7zM884.9 736.6h2.7V737.7h-2.7zM1000.6 728.8h2.7V737.7h-2.7zM1004.5 730.1h2.7V737.7h-2.7zM1008.3 733.1h2.7V737.7h-2.7zM1012.2 735.3h2.7V737.7h-2.7zM1016 736.4h2.7V737.7h-2.7zM1081.6 725.7h2.7V737.7h-2.7zM1085.5 727.3h2.7V737.7h-2.7zM1089.3 729.4h2.7V737.7h-2.7zM1093.2 732.2h2.7V737.7h-2.7zM1097 736.7h2.7V737.7h-2.7zM1185.8 730.7h2.7V737.7h-2.7zM1189.6 731.7h2.7V737.7h-2.7zM1193.5 731.9h2.7V737.7h-2.7zM1197.3 732.6h2.7V737.7h-2.7zM1201.2 736.6h2.7V737.7h-2.7zM1282.2 731.8h2.7V737.7h-2.7zM1286 732.7h2.7V737.7h-2.7zM1289.9 733.1h2.7V737.7h-2.7zM1293.8 734.4h2.7V737.7h-2.7zM1297.6 736.7h2.7V737.7h-2.7zM1301.5 737.4h2.7V737.7h-2.7zM1336.2 736h2.7V737.7h-2.7zM1347.8 736.9h2.7V737.7h-2.7z" fill="#b5dcba"/>
<path d="M67.1 737.7h2.7V738.2h-2.7zM71 737.7h2.7V738.7h-2.7zM159.7 737.7h2.7V738.8h-2.7zM163.5 737.7h2.7V739.1h-2.7zM167.4 737.7h2.7V739.4h-2.7zM171.3 737.7h2.7V739.9h-2.7zM175.1 737.7h2.7V740.7h-2.7zM179 737.7h2.7V741.2h-2.7zM206 737.7h2.7V740.2h-2.7zM209.8 737.7h2.7V740.5h-2.7zM213.7 737.7h2.7V740.7h-2.7zM244.6 737.7h2.7V738.1h-2.7zM248.4 737.7h2.7V743.6h-2.7zM252.3 737.7h2.7V745.5h-2.7zM256.1 737.7h2.7V746h-2.7zM294.7 737.7h2.7V738.7h-2.7zM298.6 737.7h2.7V738.9h-2.7zM302.4 737.7h2.7V739.1h-2.7zM306.3 737.7h2.7V739.3h-2.7zM310.1 737.7h2.7V739.5h-2.7zM314 737.7h2.7V739.6h-2.7zM317.8 737.7h2.7V741h-2.7zM321.7 737.7h2.7V742.6h-2.7zM325.6 737.7h2.7V743.8h-2.7zM329.4 737.7h2.7V744.5h-2.7zM333.3 737.7h2.7V745.2h-2.7zM344.8 737.7h2.7V745.3h-2.7zM352.6 737.7h2.7V745.3h-2.7zM360.3 737.7h2.7V745.4h-2.7zM429.7 737.7h2.7V738.3h-2.7zM433.6 737.7h2.7V738.7h-2.7zM661.2 737.7h2.7V738.2h-2.7zM665 737.7h2.7V738.4h-2.7zM668.9 737.7h2.7V738.5h-2.7zM672.7 737.7h2.7V738.7h-2.7zM676.6 737.7h2.7V739.2h-2.7zM699.7 737.7h2.7V738.7h-2.7zM703.6 737.7h2.7V739.5h-2.7zM707.4 737.7h2.7V741.1h-2.7zM711.3 737.7h2.7V742.3h-2.7zM715.2 737.7h2.7V742.4h-2.7zM780.7 737.7h2.7V738.1h-2.7zM784.6 737.7h2.7V739.2h-2.7zM788.4 737.7h2.7V739.7h-2.7zM792.3 737.7h2.7V742.1h-2.7zM796.2 737.7h2.7V743.8h-2.7zM800 737.7h2.7V744h-2.7zM888.7 737.7h2.7V741.8h-2.7zM892.6 737.7h2.7V745.9h-2.7zM896.5 737.7h2.7V748.2h-2.7zM900.3 737.7h2.7V749.4h-2.7zM904.2 737.7h2.7V749.7h-2.7zM931.2 737.7h2.7V744.9h-2.7zM935 737.7h2.7V745.2h-2.7zM942.7 737.7h2.7V746.9h-2.7zM965.9 737.7h2.7V740.8h-2.7zM1019.9 737.7h2.7V739.3h-2.7zM1023.7 737.7h2.7V742.4h-2.7zM1027.6 737.7h2.7V746.1h-2.7zM1031.5 737.7h2.7V747.5h-2.7zM1035.3 737.7h2.7V748.7h-2.7zM1039.2 737.7h2.7V749.6h-2.7zM1046.9 737.7h2.7V750.8h-2.7zM1100.9 737.7h2.7V742.1h-2.7zM1104.8 737.7h2.7V746.7h-2.7zM1108.6 737.7h2.7V749h-2.7zM1112.5 737.7h2.7V750.7h-2.7zM1116.3 737.7h2.7V752.1h-2.7zM1158.8 737.7h2.7V740.7h-2.7zM1162.6 737.7h2.7V741.5h-2.7zM1205 737.7h2.7V740.4h-2.7zM1208.9 737.7h2.7V742.5h-2.7zM1212.8 737.7h2.7V743.7h-2.7zM1216.6 737.7h2.7V744.5h-2.7zM1228.2 737.7h2.7V744h-2.7zM1232 737.7h2.7V745.1h-2.7zM1235.9 737.7h2.7V747.7h-2.7zM1239.8 737.7h2.7V750.3h-2.7zM1305.3 737.7h2.7V738.5h-2.7zM1309.2 737.7h2.7V741.9h-2.7zM1313.1 737.7h2.7V742.3h-2.7zM1351.6 737.7h2.7V738.7h-2.7zM1359.3 737.7h2.7V738.8h-2.7zM1367.1 737.7h2.7V739.2h-2.7zM1370.9 737.7h2.7V739.3h-2.7zM1374.8 737.7h2.7V740.4h-2.7zM1378.6 737.7h2.7V741.2h-2.7zM1382.5 737.7h2.7V741.5h-2.7z" fill="#f3233c"/>
<path d="M74.8 737.7h2.7V738.6h-2.7zM78.7 737.7h2.7V738.6h-2.7zM82.5 737.7h2.7V738.5h-2.7zM86.4 737.7h2.7V738h-2.7zM182.8 737.7h2.7V741.2h-2.7zM186.7 737.7h2.7V741.1h-2.7zM190.5 737.7h2.7V740.2h-2.7zM194.4 737.7h2.7V740h-2.7zM198.3 737.7h2.7V738.7h-2.7zM202.1 737.7h2.7V738.7h-2.7zM217.5 737.7h2.7V740.7h-2.7zM221.4 737.7h2.7V738.7h-2.7zM225.3 737.7h2.7V738.7h-2.7zM260 737.7h2.7V745.3h-2.7zM263.8 737.7h2.7V743.8h-2.7zM267.7 737.7h2.7V742.2h-2.7zM271.6 737.7h2.7V739.7h-2.7zM275.4 737.7h2.7V738h-2.7zM337.1 737.7h2.7V744.9h-2.7zM341 737.7h2.7V744.8h-2.7zM348.7 737.7h2.7V745.3h-2.7zM356.4 737.7h2.7V745.2h-2.7zM364.1 737.7h2.7V742.6h-2.7zM368 737.7h2.7V741.1h-2.7zM371.8 737.7h2.7V740h-2.7zM375.7 737.7h2.7V739.1h-2.7zM379.6 737.7h2.7V738.3h-2.7zM437.4 737.7h2.7V738.7h-2.7zM441.3 737.7h2.7V738h-2.7zM680.4 737.7h2.7V738.8h-2.7zM684.3 737.7h2.7V738.5h-2.7zM688.2 737.7h2.7V738.4h-2.7zM692 737.7h2.7V738.4h-2.7zM695.9 737.7h2.7V738.3h-2.7zM719 737.7h2.7V741.4h-2.7zM722.9 737.7h2.7V740.3h-2.7zM726.7 737.7h2.7V739.3h-2.7zM730.6 737.7h2.7V738.1h-2.7zM803.9 737.7h2.7V743.2h-2.7zM807.7 737.7h2.7V742.2h-2.7zM811.6 737.7h2.7V740.7h-2.7zM815.4 737.7h2.7V739h-2.7zM908 737.7h2.7V749.3h-2.7zM911.9 737.7h2.7V748.2h-2.7zM915.7 737.7h2.7V748.2h-2.7zM919.6 737.7h2.7V747.3h-2.7zM923.5 737.7h2.7V747.1h-2.7zM927.3 737.7h2.7V744.7h-2.7zM938.9 737.7h2.7V744.6h-2.7zM946.6 737.7h2.7V746.7h-2.7zM950.5 737.7h2.7V744.7h-2.7zM954.3 737.7h2.7V742.4h-2.7zM958.2 737.7h2.7V740.6h-2.7zM962 737.7h2.7V739.9h-2.7zM969.7 737.7h2.7V738.1h-2.7zM1043 737.7h2.7V749.6h-2.7zM1050.7 737.7h2.7V750.5h-2.7zM1054.6 737.7h2.7V745.3h-2.7zM1058.5 737.7h2.7V742.2h-2.7zM1120.2 737.7h2.7V750.6h-2.7zM1124 737.7h2.7V747.3h-2.7zM1127.9 737.7h2.7V745.3h-2.7zM1131.8 737.7h2.7V743.9h-2.7zM1135.6 737.7h2.7V742.3h-2.7zM1139.5 737.7h2.7V741.7h-2.7zM1143.3 737.7h2.7V741.2h-2.7zM1147.2 737.7h2.7V740.4h-2.7zM1151 737.7h2.7V739.9h-2.7zM1154.9 737.7h2.7V739.9h-2.7zM1166.5 737.7h2.7V739.4h-2.7zM1170.3 737.7h2.7V738.1h-2.7zM1220.5 737.7h2.7V743.6h-2.7zM1224.3 737.7h2.7V743.1h-2.7zM1243.6 737.7h2.7V749.9h-2.7zM1247.5 737.7h2.7V746h-2.7zM1251.3 737.7h2.7V740.4h-2.7zM1316.9 737.7h2.7V739.8h-2.7zM1320.8 737.7h2.7V738.5h-2.7zM1355.5 737.7h2.7V738.6h-2.7zM1363.2 737.7h2.7V738.4h-2.7zM1386.3 737.7h2.7V740.4h-2.7zM1390.2 737.7h2.7V738.9h-2.7zM1394.1 737.7h2.7V738.1h-2.7z" fill="#fbb6bf"/>
<line x1="1218" y1="751.4" x2="1442.2" y2="738.6" stroke="#17591b" stroke-width="2" stroke-linecap="round"/>
<path d="M1432.7 730.7L1442.2 738.6L1433.3 748.8" fill="none" stroke="#17591b" stroke-width="2" stroke-linecap="round" stroke-linejoin="round"/>
<line x1="10" y1="774.4" x2="1535" y2="774.4" stroke="#7c7f8a" stroke-width="1" stroke-dasharray="4.4 5.19" stroke-dashoffset="1.29"/>
<path d="M9.2 774.1h2.7V774.9h-2.7zM13.1 774.1h2.7V774.9h-2.7zM17 774.1h2.7V774.9h-2.7zM20.8 774.1h2.7V774.9h-2.7zM24.7 774h2.7V774.9h-2.7zM28.5 774h2.7V774.9h-2.7zM32.4 774h2.7V774.9h-2.7zM36.3 774h2.7V774.9h-2.7zM40.1 774h2.7V774.9h-2.7zM44 774h2.7V774.9h-2.7zM47.8 773.9h2.7V774.9h-2.7zM51.7 773.9h2.7V774.9h-2.7zM55.5 773.9h2.7V774.9h-2.7zM59.4 774h2.7V774.9h-2.7zM82.5 773.9h2.7V774.9h-2.7zM86.4 773.9h2.7V774.9h-2.7zM90.3 773.9h2.7V774.9h-2.7zM94.1 773.9h2.7V774.9h-2.7zM98 773.9h2.7V774.9h-2.7zM101.8 773.9h2.7V774.9h-2.7zM105.7 773.9h2.7V774.9h-2.7zM109.5 773.9h2.7V774.9h-2.7zM113.4 761.9h2.7V774.9h-2.7zM117.3 764.5h2.7V774.9h-2.7zM121.1 765.1h2.7V774.9h-2.7zM125 766.4h2.7V774.9h-2.7zM128.8 768.2h2.7V774.9h-2.7zM132.7 768.9h2.7V774.9h-2.7zM136.5 769.1h2.7V774.9h-2.7zM140.4 769.2h2.7V774.9h-2.7zM144.3 769.3h2.7V774.9h-2.7zM148.1 770.7h2.7V774.9h-2.7zM152 772.4h2.7V774.9h-2.7zM155.8 772.4h2.7V774.9h-2.7zM159.7 772.6h2.7V774.9h-2.7zM163.5 772.9h2.7V774.9h-2.7zM167.4 772.9h2.7V774.9h-2.7zM171.3 773.1h2.7V774.9h-2.7zM175.1 773.4h2.7V774.9h-2.7zM179 773.4h2.7V774.9h-2.7zM182.8 773.4h2.7V774.9h-2.7zM186.7 773.8h2.7V774.9h-2.7zM190.5 773.9h2.7V774.9h-2.7zM194.4 773.6h2.7V774.9h-2.7zM198.3 772.9h2.7V774.9h-2.7zM202.1 773.3h2.7V774.9h-2.7zM206 773.4h2.7V774.9h-2.7zM209.8 773.4h2.7V774.9h-2.7zM213.7 774.1h2.7V774.9h-2.7zM217.5 774.1h2.7V774.9h-2.7zM221.4 773.8h2.7V774.9h-2.7zM225.3 772.9h2.7V774.9h-2.7zM229.1 772.8h2.7V774.9h-2.7zM233 772.7h2.7V774.9h-2.7zM236.8 772.6h2.7V774.9h-2.7zM240.7 772.5h2.7V774.9h-2.7zM244.6 773.8h2.7V774.9h-2.7zM445.1 774h2.7V774.9h-2.7zM479.9 773.9h2.7V774.9h-2.7zM483.7 773.4h2.7V774.9h-2.7zM487.6 773.4h2.7V774.9h-2.7zM491.4 773.6h2.7V774.9h-2.7zM495.3 773.9h2.7V774.9h-2.7zM499.1 773.5h2.7V774.9h-2.7zM503 773.4h2.7V774.9h-2.7zM506.9 773.3h2.7V774.9h-2.7zM510.7 773.2h2.7V774.9h-2.7zM514.6 773.2h2.7V774.9h-2.7zM518.4 773.1h2.7V774.9h-2.7zM522.3 773h2.7V774.9h-2.7zM526.1 773h2.7V774.9h-2.7zM530 772.9h2.7V774.9h-2.7zM533.9 772.4h2.7V774.9h-2.7zM537.7 772.4h2.7V774.9h-2.7zM541.6 772.4h2.7V774.9h-2.7zM545.4 772.4h2.7V774.9h-2.7zM549.3 772.8h2.7V774.9h-2.7zM553.1 773.4h2.7V774.9h-2.7zM557 773.4h2.7V774.9h-2.7zM560.9 773.4h2.7V774.9h-2.7zM564.7 773.4h2.7V774.9h-2.7zM568.6 773.4h2.7V774.9h-2.7zM572.4 773.4h2.7V774.9h-2.7zM576.3 773.4h2.7V774.9h-2.7zM580.1 773.2h2.7V774.9h-2.7zM584 772.9h2.7V774.9h-2.7zM587.9 765.9h2.7V774.9h-2.7zM591.7 765.5h2.7V774.9h-2.7zM595.6 768h2.7V774.9h-2.7zM599.4 769.1h2.7V774.9h-2.7zM603.3 770.6h2.7V774.9h-2.7zM607.1 771.7h2.7V774.9h-2.7zM611 770.8h2.7V774.9h-2.7zM614.9 770.6h2.7V774.9h-2.7zM618.7 771.3h2.7V774.9h-2.7zM622.6 770.8h2.7V774.9h-2.7zM626.4 770.2h2.7V774.9h-2.7zM630.3 770.1h2.7V774.9h-2.7zM634.1 770.7h2.7V774.9h-2.7zM638 771.3h2.7V774.9h-2.7zM641.9 769.9h2.7V774.9h-2.7zM645.7 770.5h2.7V774.9h-2.7zM649.6 771.4h2.7V774.9h-2.7zM653.4 771.5h2.7V774.9h-2.7zM657.3 772.2h2.7V774.9h-2.7zM661.2 773.4h2.7V774.9h-2.7zM665 773.4h2.7V774.9h-2.7zM668.9 773.4h2.7V774.9h-2.7zM672.7 773.4h2.7V774.9h-2.7zM676.6 772.9h2.7V774.9h-2.7zM680.4 772.6h2.7V774.9h-2.7zM684.3 772.4h2.7V774.9h-2.7zM688.2 772.9h2.7V774.9h-2.7zM692 772.8h2.7V774.9h-2.7zM695.9 772.5h2.7V774.9h-2.7zM699.7 773.1h2.7V774.9h-2.7zM703.6 774h2.7V774.9h-2.7zM722.9 774h2.7V774.9h-2.7zM726.7 773.3h2.7V774.9h-2.7zM730.6 772.4h2.7V774.9h-2.7zM734.4 772.8h2.7V774.9h-2.7zM738.3 772.1h2.7V774.9h-2.7zM742.2 773.4h2.7V774.9h-2.7zM746 773.4h2.7V774.9h-2.7zM749.9 773.4h2.7V774.9h-2.7zM753.7 773.4h2.7V774.9h-2.7zM757.6 773.2h2.7V774.9h-2.7zM761.4 773.1h2.7V774.9h-2.7zM765.3 773h2.7V774.9h-2.7zM769.2 772.7h2.7V774.9h-2.7zM773 772.6h2.7V774.9h-2.7zM776.9 773.5h2.7V774.9h-2.7zM811.6 773.9h2.7V774.9h-2.7zM815.4 773.3h2.7V774.9h-2.7zM819.3 773h2.7V774.9h-2.7zM823.2 773.7h2.7V774.9h-2.7zM827 774h2.7V774.9h-2.7zM830.9 773.1h2.7V774.9h-2.7zM834.7 768.7h2.7V774.9h-2.7zM838.6 767.7h2.7V774.9h-2.7zM842.4 767.2h2.7V774.9h-2.7zM846.3 767.4h2.7V774.9h-2.7zM850.2 765.4h2.7V774.9h-2.7zM854 766.4h2.7V774.9h-2.7zM857.9 767.9h2.7V774.9h-2.7zM861.7 768.9h2.7V774.9h-2.7zM865.6 769.4h2.7V774.9h-2.7zM869.5 769.8h2.7V774.9h-2.7zM873.3 769.3h2.7V774.9h-2.7zM877.2 771.5h2.7V774.9h-2.7zM881 772.1h2.7V774.9h-2.7zM884.9 773.6h2.7V774.9h-2.7zM973.6 773.3h2.7V774.9h-2.7zM977.5 772.8h2.7V774.9h-2.7zM981.3 772.1h2.7V774.9h-2.7zM985.2 770.9h2.7V774.9h-2.7zM989 771.4h2.7V774.9h-2.7zM992.9 767.5h2.7V774.9h-2.7zM996.7 769.6h2.7V774.9h-2.7zM1000.6 772.9h2.7V774.9h-2.7zM1004.5 772.6h2.7V774.9h-2.7zM1008.3 773.9h2.7V774.9h-2.7zM1012.2 773.6h2.7V774.9h-2.7zM1016 773.9h2.7V774.9h-2.7zM1054.6 767.9h2.7V774.9h-2.7zM1058.5 767.7h2.7V774.9h-2.7zM1062.3 766.6h2.7V774.9h-2.7zM1066.2 766.4h2.7V774.9h-2.7zM1070 766.9h2.7V774.9h-2.7zM1073.9 760.9h2.7V774.9h-2.7zM1077.7 762.4h2.7V774.9h-2.7zM1081.6 765h2.7V774.9h-2.7zM1085.5 767h2.7V774.9h-2.7zM1089.3 768h2.7V774.9h-2.7zM1093.2 770.5h2.7V774.9h-2.7zM1124 773.2h2.7V774.9h-2.7zM1127.9 773.1h2.7V774.9h-2.7zM1131.8 773.4h2.7V774.9h-2.7zM1135.6 773.7h2.7V774.9h-2.7zM1139.5 774.1h2.7V774.9h-2.7zM1143.3 774.1h2.7V774.9h-2.7zM1147.2 774.1h2.7V774.9h-2.7zM1151 774.1h2.7V774.9h-2.7zM1170.3 773.2h2.7V774.9h-2.7zM1174.2 771.6h2.7V774.9h-2.7zM1178 770.9h2.7V774.9h-2.7zM1181.9 771h2.7V774.9h-2.7zM1185.8 772.2h2.7V774.9h-2.7zM1189.6 773.8h2.7V774.9h-2.7zM1193.5 773.4h2.7V774.9h-2.7zM1197.3 773.4h2.7V774.9h-2.7zM1255.2 770.2h2.7V774.9h-2.7zM1259 772.7h2.7V774.9h-2.7zM1262.9 773.8h2.7V774.9h-2.7zM1266.8 773.6h2.7V774.9h-2.7zM1270.6 773.4h2.7V774.9h-2.7zM1274.5 773.4h2.7V774.9h-2.7zM1278.3 773.4h2.7V774.9h-2.7zM1405.6 773.5h2.7V774.9h-2.7zM1409.5 773.9h2.7V774.9h-2.7zM1413.3 771h2.7V774.9h-2.7z" fill="#3da549"/>
<path d="M63.3 773.9h2.7V774.8h-2.7zM67.1 773.9h2.7V775.2h-2.7zM71 773.9h2.7V775.2h-2.7zM74.8 773.9h2.7V775.2h-2.7zM78.7 773.9h2.7V774.7h-2.7zM248.4 773.9h2.7V790.6h-2.7zM252.3 773.9h2.7V788.4h-2.7zM256.1 773.9h2.7V785.7h-2.7zM260 773.9h2.7V782.9h-2.7zM263.8 773.9h2.7V780.8h-2.7zM267.7 773.9h2.7V779.1h-2.7zM271.6 773.9h2.7V778.1h-2.7zM275.4 773.9h2.7V777.2h-2.7zM279.3 773.9h2.7V776.9h-2.7zM283.1 773.9h2.7V776.9h-2.7zM287 773.9h2.7V776.9h-2.7zM290.8 773.9h2.7V776.9h-2.7zM294.7 773.9h2.7V776.9h-2.7zM298.6 773.9h2.7V776.9h-2.7zM302.4 773.9h2.7V776.5h-2.7zM306.3 773.9h2.7V775.9h-2.7zM310.1 773.9h2.7V775.9h-2.7zM314 773.9h2.7V776.3h-2.7zM317.8 773.9h2.7V777.4h-2.7zM321.7 773.9h2.7V778.4h-2.7zM325.6 773.9h2.7V778.3h-2.7zM329.4 773.9h2.7V777.6h-2.7zM333.3 773.9h2.7V779.3h-2.7zM337.1 773.9h2.7V778.2h-2.7zM341 773.9h2.7V777.6h-2.7zM344.8 773.9h2.7V779h-2.7zM348.7 773.9h2.7V781.3h-2.7zM352.6 773.9h2.7V782.1h-2.7zM356.4 773.9h2.7V781.2h-2.7zM360.3 773.9h2.7V780.4h-2.7zM364.1 773.9h2.7V778.8h-2.7zM368 773.9h2.7V777.7h-2.7zM371.8 773.9h2.7V777.2h-2.7zM375.7 773.9h2.7V776.9h-2.7zM379.6 773.9h2.7V776.5h-2.7zM383.4 773.9h2.7V776.4h-2.7zM387.3 773.9h2.7V776.4h-2.7zM391.1 773.9h2.7V776.4h-2.7zM395 773.9h2.7V775.6h-2.7zM398.8 773.9h2.7V774.9h-2.7zM402.7 773.9h2.7V775.8h-2.7zM406.6 773.9h2.7V776.4h-2.7zM410.4 773.9h2.7V776.4h-2.7zM414.3 773.9h2.7V776.4h-2.7zM418.1 773.9h2.7V776.4h-2.7zM422 773.9h2.7V776.4h-2.7zM425.8 773.9h2.7V776.4h-2.7zM429.7 773.9h2.7V776.4h-2.7zM433.6 773.9h2.7V777.4h-2.7zM437.4 773.9h2.7V777.4h-2.7zM441.3 773.9h2.7V775.9h-2.7zM449 773.9h2.7V775.3h-2.7zM452.9 773.9h2.7V775.1h-2.7zM456.7 773.9h2.7V774.9h-2.7zM460.6 773.9h2.7V774.9h-2.7zM464.4 773.9h2.7V775.2h-2.7zM468.3 773.9h2.7V775.9h-2.7zM472.1 773.9h2.7V775.9h-2.7zM476 773.9h2.7V774.8h-2.7zM707.4 773.9h2.7V775.9h-2.7zM711.3 773.9h2.7V775.8h-2.7zM715.2 773.9h2.7V775.4h-2.7zM719 773.9h2.7V774.7h-2.7zM780.7 773.9h2.7V774.9h-2.7zM784.6 773.9h2.7V774.9h-2.7zM788.4 773.9h2.7V775.4h-2.7zM792.3 773.9h2.7V777.2h-2.7zM796.2 773.9h2.7V776.3h-2.7zM800 773.9h2.7V775.8h-2.7zM803.9 773.9h2.7V775.4h-2.7zM807.7 773.9h2.7V774.9h-2.7zM888.7 773.9h2.7V777.5h-2.7zM892.6 773.9h2.7V778.4h-2.7zM896.5 773.9h2.7V778.1h-2.7zM900.3 773.9h2.7V777.4h-2.7zM904.2 773.9h2.7V777h-2.7zM908 773.9h2.7V776.4h-2.7zM911.9 773.9h2.7V776.5h-2.7zM915.7 773.9h2.7V776.9h-2.7zM919.6 773.9h2.7V777.2h-2.7zM923.5 773.9h2.7V778.2h-2.7zM927.3 773.9h2.7V775.4h-2.7zM931.2 773.9h2.7V776.3h-2.7zM935 773.9h2.7V778.2h-2.7zM938.9 773.9h2.7V778.4h-2.7zM942.7 773.9h2.7V782.7h-2.7zM946.6 773.9h2.7V781.9h-2.7zM950.5 773.9h2.7V779.7h-2.7zM954.3 773.9h2.7V777.4h-2.7zM958.2 773.9h2.7V776.5h-2.7zM962 773.9h2.7V777.2h-2.7zM965.9 773.9h2.7V778.2h-2.7zM969.7 773.9h2.7V774.8h-2.7zM1019.9 773.9h2.7V776.5h-2.7zM1023.7 773.9h2.7V778h-2.7zM1027.6 773.9h2.7V780.3h-2.7zM1031.5 773.9h2.7V779.1h-2.7zM1035.3 773.9h2.7V779.4h-2.7zM1039.2 773.9h2.7V779h-2.7zM1043 773.9h2.7V778.1h-2.7zM1046.9 773.9h2.7V780.3h-2.7zM1050.7 773.9h2.7V778.5h-2.7zM1097 773.9h2.7V776.1h-2.7zM1100.9 773.9h2.7V777.7h-2.7zM1104.8 773.9h2.7V779.5h-2.7zM1108.6 773.9h2.7V779.4h-2.7zM1112.5 773.9h2.7V778.3h-2.7zM1116.3 773.9h2.7V779h-2.7zM1120.2 773.9h2.7V775.8h-2.7zM1154.9 773.9h2.7V774.8h-2.7zM1158.8 773.9h2.7V776.4h-2.7zM1162.6 773.9h2.7V777h-2.7zM1166.5 773.9h2.7V774.8h-2.7zM1201.2 773.9h2.7V779.1h-2.7zM1205 773.9h2.7V779.8h-2.7zM1208.9 773.9h2.7V779.6h-2.7zM1212.8 773.9h2.7V779.4h-2.7zM1216.6 773.9h2.7V778.2h-2.7zM1220.5 773.9h2.7V777.7h-2.7zM1224.3 773.9h2.7V777.8h-2.7zM1228.2 773.9h2.7V778.1h-2.7zM1232 773.9h2.7V778.1h-2.7zM1235.9 773.9h2.7V783.3h-2.7zM1239.8 773.9h2.7V786.9h-2.7zM1243.6 773.9h2.7V783.6h-2.7zM1247.5 773.9h2.7V778.4h-2.7zM1251.3 773.9h2.7V774.9h-2.7zM1282.2 773.9h2.7V774.8h-2.7zM1286 773.9h2.7V775.2h-2.7zM1289.9 773.9h2.7V775.3h-2.7zM1293.8 773.9h2.7V775.1h-2.7zM1297.6 773.9h2.7V777.4h-2.7zM1301.5 773.9h2.7V777.1h-2.7zM1305.3 773.9h2.7V781.1h-2.7zM1309.2 773.9h2.7V787.1h-2.7zM1313.1 773.9h2.7V783.7h-2.7zM1316.9 773.9h2.7V779.7h-2.7zM1320.8 773.9h2.7V778.5h-2.7zM1324.6 773.9h2.7V776.9h-2.7zM1328.5 773.9h2.7V776.7h-2.7zM1332.3 773.9h2.7V776h-2.7zM1336.2 773.9h2.7V776.3h-2.7zM1340.1 773.9h2.7V775.4h-2.7zM1343.9 773.9h2.7V777h-2.7zM1347.8 773.9h2.7V782.8h-2.7zM1351.6 773.9h2.7V782.1h-2.7zM1355.5 773.9h2.7V780.8h-2.7zM1359.3 773.9h2.7V779.8h-2.7zM1363.2 773.9h2.7V779.4h-2.7zM1367.1 773.9h2.7V779.3h-2.7zM1370.9 773.9h2.7V779h-2.7zM1374.8 773.9h2.7V779.4h-2.7zM1378.6 773.9h2.7V779.5h-2.7zM1382.5 773.9h2.7V779.4h-2.7zM1386.3 773.9h2.7V777.2h-2.7zM1390.2 773.9h2.7V776.3h-2.7zM1394.1 773.9h2.7V775.8h-2.7zM1397.9 773.9h2.7V775.3h-2.7zM1401.8 773.9h2.7V774.8h-2.7z" fill="#f3233c"/>
<text x="15.8" y="40" font-size="11" fill="#4d4d4d" textLength="240.1" lengthAdjust="spacingAndGlyphs">Credo Technology Group Holding Ltd · 1D · NASDAQ</text>
<text x="262.6" y="40" font-size="11" fill="#4d4d4d" textLength="7.6" lengthAdjust="spacingAndGlyphs">O</text>
<text x="271" y="40" font-size="11" fill="#3a7d44" textLength="29.9" lengthAdjust="spacingAndGlyphs">108.18</text>
<text x="307.6" y="40" font-size="11" fill="#4d4d4d" textLength="6.6" lengthAdjust="spacingAndGlyphs">H</text>
<text x="315.2" y="40" font-size="11" fill="#3a7d44" textLength="29.2" lengthAdjust="spacingAndGlyphs">122.31</text>
<text x="352" y="40" font-size="11" fill="#4d4d4d" textLength="4.8" lengthAdjust="spacingAndGlyphs">L</text>
<text x="358" y="40" font-size="11" fill="#3a7d44" textLength="30.3" lengthAdjust="spacingAndGlyphs">108.18</text>
<text x="394.7" y="40" font-size="11" fill="#4d4d4d" textLength="5.8" lengthAdjust="spacingAndGlyphs">C</text>
<text x="401.5" y="40" font-size="11" fill="#3a7d44" textLength="30.3" lengthAdjust="spacingAndGlyphs">119.59</text>
<text x="438.9" y="40" font-size="11" fill="#3a7d44" textLength="79" lengthAdjust="spacingAndGlyphs">+11.66 (+10.80%)</text>
<text x="15.8" y="54.6" font-size="11" fill="#4d4d4d" textLength="197.2" lengthAdjust="spacingAndGlyphs">4 SMAs + EMA (20, 50, 100, 200, 50, close)</text>
<text x="220.5" y="54.6" font-size="11" fill="#4bb252" textLength="35.5" lengthAdjust="spacingAndGlyphs">103.893</text>
<text x="263.8" y="54.6" font-size="11" fill="#f23645" textLength="35.9" lengthAdjust="spacingAndGlyphs">111.940</text>
<text x="15.8" y="582.5" font-size="11" fill="#4d4d4d" textLength="35.3" lengthAdjust="spacingAndGlyphs">Vol (20)</text>
<text x="58.2" y="582.5" font-size="11" fill="#4bb252" textLength="28.8" lengthAdjust="spacingAndGlyphs">8.56M</text>
<text x="93.8" y="582.5" font-size="11" fill="#2f55c0" textLength="29.2" lengthAdjust="spacingAndGlyphs">6.52M</text>
<text x="15.8" y="645" font-size="11" fill="#4d4d4d" textLength="66" lengthAdjust="spacingAndGlyphs">RSI (14, close)</text>
<text x="89.2" y="645" font-size="11" fill="#2f62e6" textLength="24.8" lengthAdjust="spacingAndGlyphs">59.54</text>
<text x="120.7" y="645" font-size="11" fill="#ef6c1a" textLength="25.5" lengthAdjust="spacingAndGlyphs">44.89</text>
<text x="15.8" y="737.2" font-size="11" fill="#4d4d4d" textLength="108" lengthAdjust="spacingAndGlyphs">MACD (close, 12, 26, 9)</text>
<text x="130.5" y="737.2" font-size="11" fill="#4bb252" textLength="20.2" lengthAdjust="spacingAndGlyphs">2.72</text>
<text x="15.8" y="772.4" font-size="11" fill="#4d4d4d" textLength="35.2" lengthAdjust="spacingAndGlyphs">EFI (13)</text>
<text x="58.2" y="772.4" font-size="11" fill="#4bb252" textLength="34.8" lengthAdjust="spacingAndGlyphs">15.87M</text>
<rect x="1539" y="27" width="48.5" height="22.5" rx="4" ry="4" fill="#ffffff" stroke="#ededed" stroke-width="1.2"/>
<text x="1546.7" y="43" font-size="11" fill="#333333" textLength="18.5" lengthAdjust="spacingAndGlyphs">USD</text>
<text x="1543.7" y="75.2" font-size="11" fill="#4d4d4d" textLength="30.6" lengthAdjust="spacingAndGlyphs">220.00</text>
<text x="1543.7" y="107.8" font-size="11" fill="#4d4d4d" textLength="30.6" lengthAdjust="spacingAndGlyphs">190.00</text>
<text x="1543.7" y="146" font-size="11" fill="#4d4d4d" textLength="30.6" lengthAdjust="spacingAndGlyphs">160.00</text>
<text x="1543.7" y="175.6" font-size="11" fill="#4d4d4d" textLength="30.6" lengthAdjust="spacingAndGlyphs">140.00</text>
<text x="1543.7" y="239.6" font-size="11" fill="#4d4d4d" textLength="30.6" lengthAdjust="spacingAndGlyphs">105.00</text>
<text x="1543.7" y="266.5" font-size="11" fill="#4d4d4d" textLength="25.3" lengthAdjust="spacingAndGlyphs">93.00</text>
<text x="1543.7" y="297.2" font-size="11" fill="#4d4d4d" textLength="25.3" lengthAdjust="spacingAndGlyphs">81.00</text>
<text x="1543.7" y="332.8" font-size="11" fill="#4d4d4d" textLength="25.3" lengthAdjust="spacingAndGlyphs">69.00</text>
<text x="1543.7" y="367.6" font-size="11" fill="#4d4d4d" textLength="25.3" lengthAdjust="spacingAndGlyphs">59.00</text>
<text x="1543.7" y="400" font-size="11" fill="#4d4d4d" textLength="25.3" lengthAdjust="spacingAndGlyphs">51.00</text>
<text x="1543.7" y="427.8" font-size="11" fill="#4d4d4d" textLength="25.3" lengthAdjust="spacingAndGlyphs">45.00</text>
<text x="1543.7" y="459.6" font-size="11" fill="#4d4d4d" textLength="25.3" lengthAdjust="spacingAndGlyphs">39.00</text>
<text x="1543.7" y="490.1" font-size="11" fill="#4d4d4d" textLength="25.3" lengthAdjust="spacingAndGlyphs">34.00</text>
<text x="1543.7" y="517.9" font-size="11" fill="#4d4d4d" textLength="25.3" lengthAdjust="spacingAndGlyphs">30.00</text>
<text x="1543.7" y="545.5" font-size="11" fill="#4d4d4d" textLength="25.3" lengthAdjust="spacingAndGlyphs">26.50</text>
<rect x="1535.5" y="200" width="43.5" height="14.3" fill="#43a84b"/>
<text x="1543.7" y="211.2" font-size="11" fill="#ffffff" textLength="30.6" lengthAdjust="spacingAndGlyphs" font-weight="bold">119.59</text>
<text x="1543.3" y="582.5" font-size="11" fill="#4d4d4d" textLength="22" lengthAdjust="spacingAndGlyphs">20M</text>
<rect x="1535.5" y="599.3" width="41.5" height="14.4" rx="1.5" fill="#43a84b"/>
<text x="1543.7" y="610.6" font-size="11" fill="#ffffff" textLength="29.5" lengthAdjust="spacingAndGlyphs" font-weight="bold">8.56M</text>
<rect x="1535.5" y="613.7" width="41.5" height="13.9" rx="1.5" fill="#1f3b9c"/>
<text x="1543.7" y="624.8" font-size="11" fill="#ffffff" textLength="29.5" lengthAdjust="spacingAndGlyphs" font-weight="bold">6.52M</text>
<text x="1543.7" y="650.4" font-size="11" fill="#4d4d4d" textLength="25.5" lengthAdjust="spacingAndGlyphs">75.00</text>
<text x="1543.7" y="681.5" font-size="11" fill="#4d4d4d" textLength="25.5" lengthAdjust="spacingAndGlyphs">50.00</text>
<text x="1543.7" y="711.6" font-size="11" fill="#4d4d4d" textLength="25.5" lengthAdjust="spacingAndGlyphs">25.00</text>
<rect x="1535.5" y="658.2" width="38.5" height="14.7" rx="2" fill="#2354d8"/>
<text x="1543.7" y="669.6" font-size="11" fill="#ffffff" textLength="25.5" lengthAdjust="spacingAndGlyphs" font-weight="bold">59.54</text>
<rect x="1535.5" y="676.6" width="38.5" height="14.7" rx="2" fill="#ea5a0c"/>
<text x="1543.7" y="688" font-size="11" fill="#ffffff" textLength="25.5" lengthAdjust="spacingAndGlyphs" font-weight="bold">44.89</text>
<text x="1543.7" y="741.6" font-size="11" fill="#4d4d4d" textLength="30.5" lengthAdjust="spacingAndGlyphs">0.0000</text>
<rect x="1535.5" y="722.2" width="33" height="14.5" rx="2" fill="#43a84b"/>
<text x="1543.7" y="733.5" font-size="11" fill="#ffffff" textLength="20" lengthAdjust="spacingAndGlyphs" font-weight="bold">2.72</text>
<rect x="1535.5" y="764" width="47" height="14.5" rx="2" fill="#43a84b"/>
<text x="1543.7" y="775.4" font-size="11" fill="#ffffff" textLength="35" lengthAdjust="spacingAndGlyphs" font-weight="bold">15.87M</text>
<rect x="1535.3" y="24" width="1.5" height="795" fill="#8a8a8a"/>
<text x="34" y="810.6" font-size="10.4" fill="#4d4d4d" text-anchor="middle">Nov</text>
<text x="111" y="810.6" font-size="10.4" fill="#4d4d4d" text-anchor="middle">Dec</text>
<text x="192.3" y="810.6" font-size="11" fill="#3a3a3a" textLength="23.5" lengthAdjust="spacingAndGlyphs" font-weight="bold" text-anchor="middle">2025</text>
<text x="269.3" y="810.6" font-size="10.4" fill="#4d4d4d" text-anchor="middle">Feb</text>
<text x="342.5" y="810.6" font-size="10.4" fill="#4d4d4d" text-anchor="middle">Mar</text>
<text x="423" y="810.6" font-size="10.4" fill="#4d4d4d" text-anchor="middle">Apr</text>
<text x="504" y="810.6" font-size="10.4" fill="#4d4d4d" text-anchor="middle">May</text>
<text x="586" y="810.6" font-size="10.4" fill="#4d4d4d" text-anchor="middle">Jun</text>
<text x="663" y="810.6" font-size="10.4" fill="#4d4d4d" text-anchor="middle">Jul</text>
<text x="748" y="810.6" font-size="10.4" fill="#4d4d4d" text-anchor="middle">Aug</text>
<text x="828" y="810.6" font-size="10.4" fill="#4d4d4d" text-anchor="middle">Sep</text>
<text x="909" y="810.6" font-size="10.4" fill="#4d4d4d" text-anchor="middle">Oct</text>
<text x="998" y="810.6" font-size="10.4" fill="#4d4d4d" text-anchor="middle">Nov</text>
<text x="1071" y="810.6" font-size="10.4" fill="#4d4d4d" text-anchor="middle">Dec</text>
<text x="1157" y="810.6" font-size="11" fill="#3a3a3a" textLength="23.5" lengthAdjust="spacingAndGlyphs" font-weight="bold" text-anchor="middle">2026</text>
<text x="1233" y="810.6" font-size="10.4" fill="#4d4d4d" text-anchor="middle">Feb</text>
<text x="1307" y="810.6" font-size="10.4" fill="#4d4d4d" text-anchor="middle">Mar</text>
<text x="1391" y="810.6" font-size="10.4" fill="#4d4d4d" text-anchor="middle">Apr</text>
<text x="1472" y="810.6" font-size="10.4" fill="#4d4d4d" text-anchor="middle">May</text>
</svg></body></html>
